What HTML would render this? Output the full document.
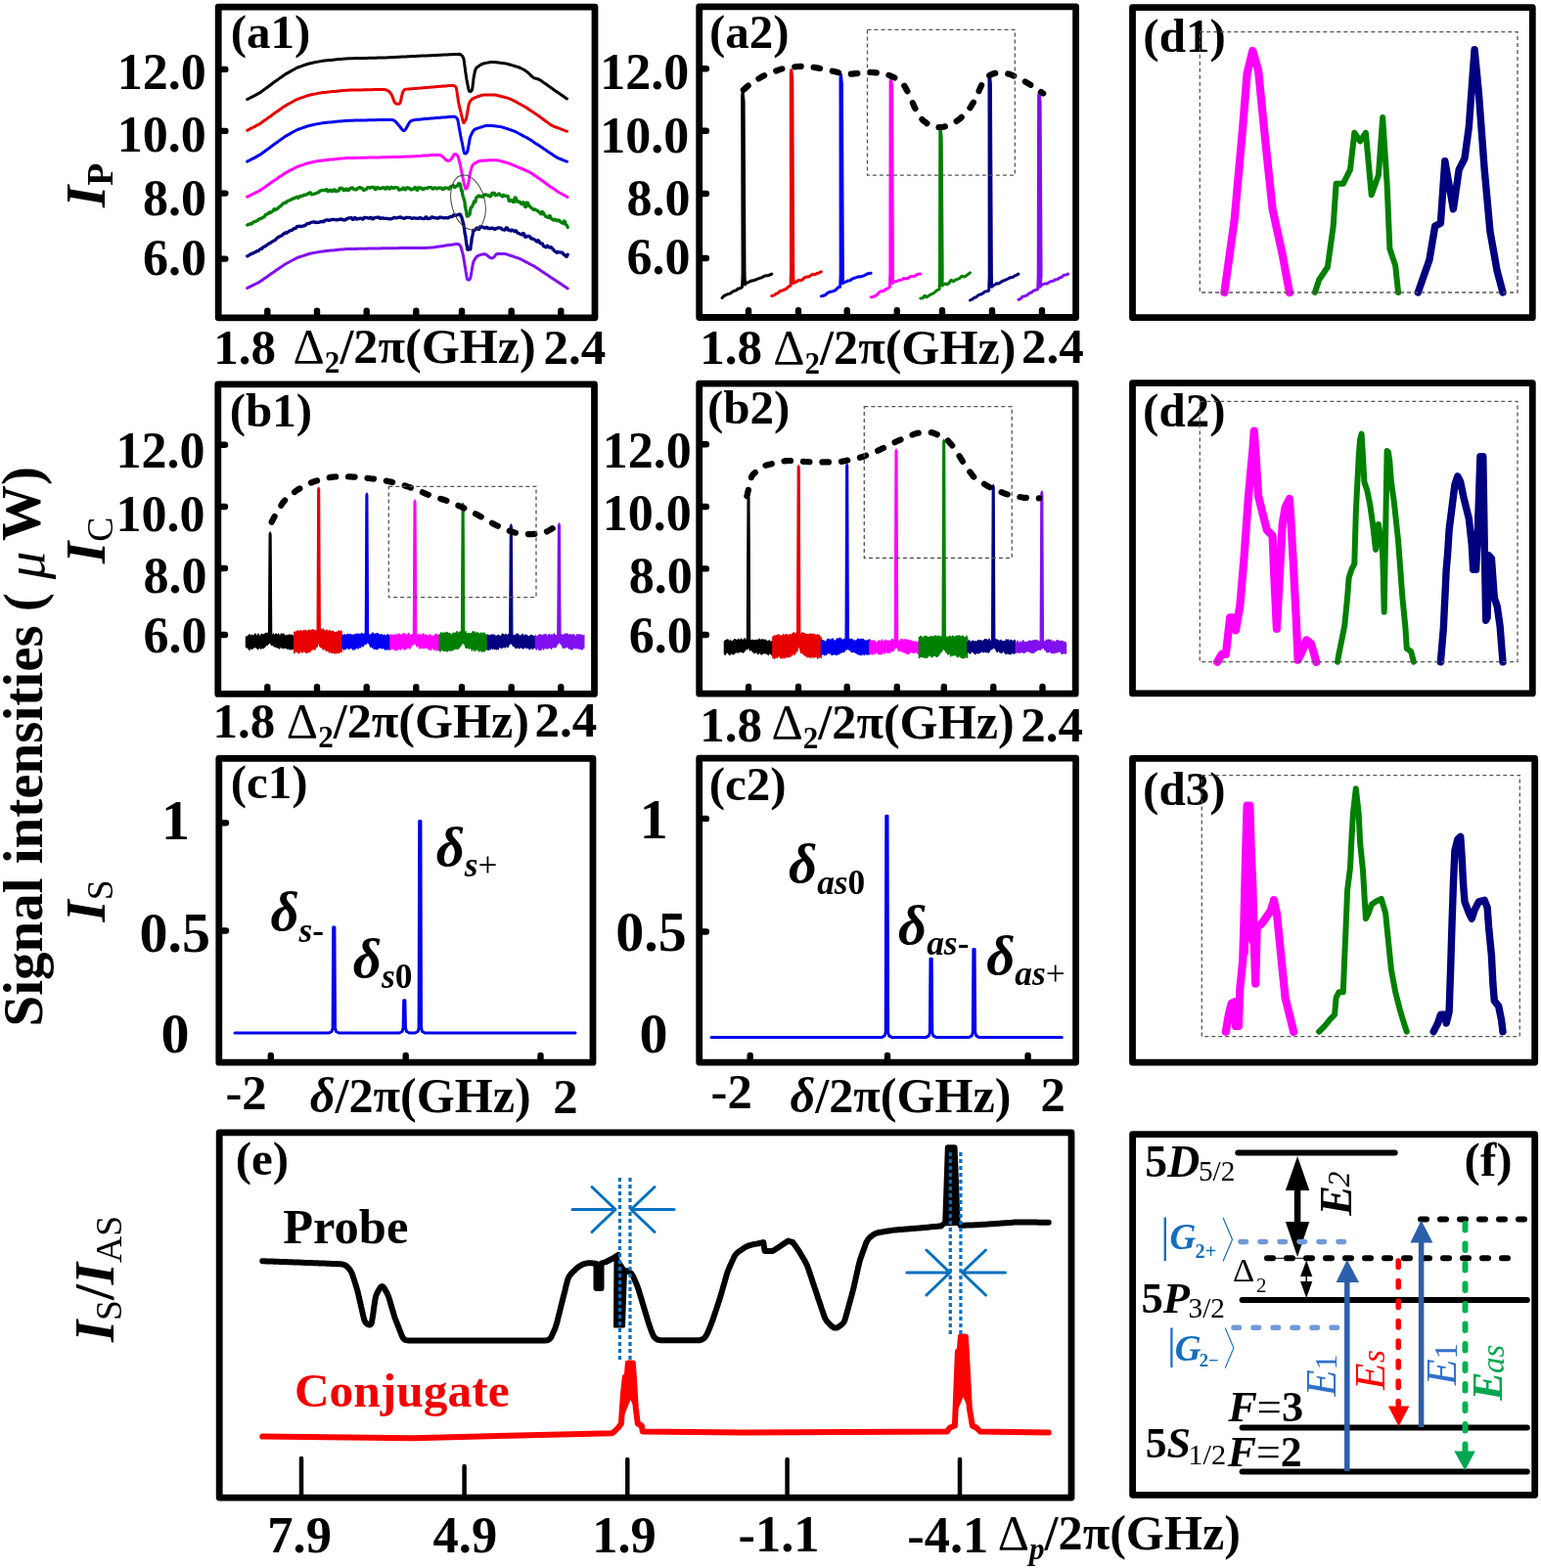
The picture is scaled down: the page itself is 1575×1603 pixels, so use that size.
<!DOCTYPE html>
<html><head><meta charset="utf-8"><style>
html,body{margin:0;padding:0;background:#fff;overflow:hidden;}
svg{display:block;}
text{font-family:"Liberation Serif", "DejaVu Serif", serif;}
</style></head><body>
<svg width="1575" height="1603" viewBox="0 0 1575 1603">
<rect width="1575" height="1603" fill="#fff"/>
<line x1="225.6" y1="70.9" x2="230.4" y2="70.9" stroke="#000" stroke-width="6.4" stroke-linecap="round"/>
<line x1="225.6" y1="133.9" x2="230.4" y2="133.9" stroke="#000" stroke-width="6.4" stroke-linecap="round"/>
<line x1="225.6" y1="197.6" x2="230.4" y2="197.6" stroke="#000" stroke-width="6.4" stroke-linecap="round"/>
<line x1="225.6" y1="264.6" x2="230.4" y2="264.6" stroke="#000" stroke-width="6.4" stroke-linecap="round"/>
<line x1="273.3" y1="322.4" x2="273.3" y2="317.6" stroke="#000" stroke-width="6.4" stroke-linecap="round"/>
<line x1="324.0" y1="322.4" x2="324.0" y2="317.6" stroke="#000" stroke-width="6.4" stroke-linecap="round"/>
<line x1="374.7" y1="322.4" x2="374.7" y2="317.6" stroke="#000" stroke-width="6.4" stroke-linecap="round"/>
<line x1="425.3" y1="322.4" x2="425.3" y2="317.6" stroke="#000" stroke-width="6.4" stroke-linecap="round"/>
<line x1="472.0" y1="322.4" x2="472.0" y2="317.6" stroke="#000" stroke-width="6.4" stroke-linecap="round"/>
<line x1="522.7" y1="322.4" x2="522.7" y2="317.6" stroke="#000" stroke-width="6.4" stroke-linecap="round"/>
<line x1="573.3" y1="322.4" x2="573.3" y2="317.6" stroke="#000" stroke-width="6.4" stroke-linecap="round"/>
<line x1="717.1" y1="70.3" x2="721.9" y2="70.3" stroke="#000" stroke-width="6.4" stroke-linecap="round"/>
<line x1="717.1" y1="133.7" x2="721.9" y2="133.7" stroke="#000" stroke-width="6.4" stroke-linecap="round"/>
<line x1="717.1" y1="198.0" x2="721.9" y2="198.0" stroke="#000" stroke-width="6.4" stroke-linecap="round"/>
<line x1="717.1" y1="264.0" x2="721.9" y2="264.0" stroke="#000" stroke-width="6.4" stroke-linecap="round"/>
<line x1="765.0" y1="322.1" x2="765.0" y2="317.3" stroke="#000" stroke-width="6.4" stroke-linecap="round"/>
<line x1="816.0" y1="322.1" x2="816.0" y2="317.3" stroke="#000" stroke-width="6.4" stroke-linecap="round"/>
<line x1="865.7" y1="322.1" x2="865.7" y2="317.3" stroke="#000" stroke-width="6.4" stroke-linecap="round"/>
<line x1="916.8" y1="322.1" x2="916.8" y2="317.3" stroke="#000" stroke-width="6.4" stroke-linecap="round"/>
<line x1="963.0" y1="322.1" x2="963.0" y2="317.3" stroke="#000" stroke-width="6.4" stroke-linecap="round"/>
<line x1="1014.0" y1="322.1" x2="1014.0" y2="317.3" stroke="#000" stroke-width="6.4" stroke-linecap="round"/>
<line x1="1065.0" y1="322.1" x2="1065.0" y2="317.3" stroke="#000" stroke-width="6.4" stroke-linecap="round"/>
<line x1="225.2" y1="454.7" x2="230.0" y2="454.7" stroke="#000" stroke-width="6.4" stroke-linecap="round"/>
<line x1="225.2" y1="518.0" x2="230.0" y2="518.0" stroke="#000" stroke-width="6.4" stroke-linecap="round"/>
<line x1="225.2" y1="581.0" x2="230.0" y2="581.0" stroke="#000" stroke-width="6.4" stroke-linecap="round"/>
<line x1="225.2" y1="649.0" x2="230.0" y2="649.0" stroke="#000" stroke-width="6.4" stroke-linecap="round"/>
<line x1="273.3" y1="707.0" x2="273.3" y2="702.2" stroke="#000" stroke-width="6.4" stroke-linecap="round"/>
<line x1="324.0" y1="707.0" x2="324.0" y2="702.2" stroke="#000" stroke-width="6.4" stroke-linecap="round"/>
<line x1="374.7" y1="707.0" x2="374.7" y2="702.2" stroke="#000" stroke-width="6.4" stroke-linecap="round"/>
<line x1="425.3" y1="707.0" x2="425.3" y2="702.2" stroke="#000" stroke-width="6.4" stroke-linecap="round"/>
<line x1="472.0" y1="707.0" x2="472.0" y2="702.2" stroke="#000" stroke-width="6.4" stroke-linecap="round"/>
<line x1="522.7" y1="707.0" x2="522.7" y2="702.2" stroke="#000" stroke-width="6.4" stroke-linecap="round"/>
<line x1="573.3" y1="707.0" x2="573.3" y2="702.2" stroke="#000" stroke-width="6.4" stroke-linecap="round"/>
<line x1="717.1" y1="454.3" x2="721.9" y2="454.3" stroke="#000" stroke-width="6.4" stroke-linecap="round"/>
<line x1="717.1" y1="518.0" x2="721.9" y2="518.0" stroke="#000" stroke-width="6.4" stroke-linecap="round"/>
<line x1="717.1" y1="581.4" x2="721.9" y2="581.4" stroke="#000" stroke-width="6.4" stroke-linecap="round"/>
<line x1="717.1" y1="649.0" x2="721.9" y2="649.0" stroke="#000" stroke-width="6.4" stroke-linecap="round"/>
<line x1="765.0" y1="706.8" x2="765.0" y2="702.0" stroke="#000" stroke-width="6.4" stroke-linecap="round"/>
<line x1="816.0" y1="706.8" x2="816.0" y2="702.0" stroke="#000" stroke-width="6.4" stroke-linecap="round"/>
<line x1="865.7" y1="706.8" x2="865.7" y2="702.0" stroke="#000" stroke-width="6.4" stroke-linecap="round"/>
<line x1="916.8" y1="706.8" x2="916.8" y2="702.0" stroke="#000" stroke-width="6.4" stroke-linecap="round"/>
<line x1="964.8" y1="706.8" x2="964.8" y2="702.0" stroke="#000" stroke-width="6.4" stroke-linecap="round"/>
<line x1="1015.3" y1="706.8" x2="1015.3" y2="702.0" stroke="#000" stroke-width="6.4" stroke-linecap="round"/>
<line x1="1065.5" y1="706.8" x2="1065.5" y2="702.0" stroke="#000" stroke-width="6.4" stroke-linecap="round"/>
<line x1="226.2" y1="841.3" x2="231.0" y2="841.3" stroke="#000" stroke-width="6.4" stroke-linecap="round"/>
<line x1="226.2" y1="951.5" x2="231.0" y2="951.5" stroke="#000" stroke-width="6.4" stroke-linecap="round"/>
<line x1="276.8" y1="1083.8" x2="276.8" y2="1079.0" stroke="#000" stroke-width="6.4" stroke-linecap="round"/>
<line x1="414.7" y1="1083.8" x2="414.7" y2="1079.0" stroke="#000" stroke-width="6.4" stroke-linecap="round"/>
<line x1="552.5" y1="1083.8" x2="552.5" y2="1079.0" stroke="#000" stroke-width="6.4" stroke-linecap="round"/>
<line x1="717.1" y1="836.9" x2="721.9" y2="836.9" stroke="#000" stroke-width="6.4" stroke-linecap="round"/>
<line x1="717.1" y1="952.5" x2="721.9" y2="952.5" stroke="#000" stroke-width="6.4" stroke-linecap="round"/>
<line x1="766.7" y1="1083.7" x2="766.7" y2="1078.9" stroke="#000" stroke-width="6.4" stroke-linecap="round"/>
<line x1="907.0" y1="1083.7" x2="907.0" y2="1078.9" stroke="#000" stroke-width="6.4" stroke-linecap="round"/>
<line x1="1050.6" y1="1083.7" x2="1050.6" y2="1078.9" stroke="#000" stroke-width="6.4" stroke-linecap="round"/>
<line x1="308" y1="1529.5" x2="308" y2="1491" stroke="#000" stroke-width="4.5" stroke-linecap="round"/>
<line x1="474.6" y1="1529.5" x2="474.6" y2="1499" stroke="#000" stroke-width="4.5" stroke-linecap="round"/>
<line x1="641.3" y1="1529.5" x2="641.3" y2="1492" stroke="#000" stroke-width="4.5" stroke-linecap="round"/>
<line x1="804.6" y1="1529.5" x2="804.6" y2="1492" stroke="#000" stroke-width="4.5" stroke-linecap="round"/>
<line x1="981" y1="1529.5" x2="981" y2="1492" stroke="#000" stroke-width="4.5" stroke-linecap="round"/>
<text x="119.65" y="90.84" font-size="52.00" font-weight="bold" text-anchor="start" >12.0</text>
<text x="119.65" y="155.49" font-size="52.00" font-weight="bold" text-anchor="start" >10.0</text>
<text x="145.90" y="219.60" font-size="52.00" font-weight="bold" text-anchor="start" >8.0</text>
<text x="145.90" y="280.80" font-size="52.00" font-weight="bold" text-anchor="start" >6.0</text>
<text x="613.30" y="90.90" font-size="52.00" font-weight="bold" text-anchor="start" >12.0</text>
<text x="613.30" y="155.69" font-size="52.00" font-weight="bold" text-anchor="start" >10.0</text>
<text x="640.50" y="219.78" font-size="52.00" font-weight="bold" text-anchor="start" >8.0</text>
<text x="640.50" y="280.14" font-size="52.00" font-weight="bold" text-anchor="start" >6.0</text>
<text x="118.55" y="477.78" font-size="52.00" font-weight="bold" text-anchor="start" >12.0</text>
<text x="118.55" y="542.58" font-size="52.00" font-weight="bold" text-anchor="start" >10.0</text>
<text x="146.50" y="606.42" font-size="52.00" font-weight="bold" text-anchor="start" >8.0</text>
<text x="146.50" y="666.62" font-size="52.00" font-weight="bold" text-anchor="start" >6.0</text>
<text x="615.65" y="477.78" font-size="52.00" font-weight="bold" text-anchor="start" >12.0</text>
<text x="615.65" y="542.34" font-size="52.00" font-weight="bold" text-anchor="start" >10.0</text>
<text x="642.85" y="606.13" font-size="52.00" font-weight="bold" text-anchor="start" >8.0</text>
<text x="642.85" y="666.62" font-size="52.00" font-weight="bold" text-anchor="start" >6.0</text>
<text x="164.95" y="857.92" font-size="58.00" font-weight="bold" text-anchor="start" >1</text>
<text x="142.40" y="972.68" font-size="58.00" font-weight="bold" text-anchor="start" >0.5</text>
<text x="164.40" y="1076.08" font-size="58.00" font-weight="bold" text-anchor="start" >0</text>
<text x="653.85" y="857.48" font-size="58.00" font-weight="bold" text-anchor="start" >1</text>
<text x="629.25" y="972.08" font-size="58.00" font-weight="bold" text-anchor="start" >0.5</text>
<text x="653.45" y="1076.08" font-size="58.00" font-weight="bold" text-anchor="start" >0</text>
<text x="218.15" y="372.31" font-size="51.00" font-weight="bold" text-anchor="start" >1.8</text>
<text x="299.55" y="371.41" font-size="50.20" font-weight="bold"><tspan font-weight="normal">Δ</tspan><tspan font-size="31.12" dy="10.04">2</tspan><tspan dy="-10.04">/2π(GHz)</tspan></text>
<text x="555.50" y="371.75" font-size="51.00" font-weight="bold" text-anchor="start" >2.4</text>
<text x="715.25" y="372.12" font-size="51.00" font-weight="bold" text-anchor="start" >1.8</text>
<text x="790.25" y="372.39" font-size="50.20" font-weight="bold"><tspan font-weight="normal">Δ</tspan><tspan font-size="31.12" dy="10.04">2</tspan><tspan dy="-10.04">/2π(GHz)</tspan></text>
<text x="1043.90" y="371.38" font-size="51.00" font-weight="bold" text-anchor="start" >2.4</text>
<text x="217.60" y="754.02" font-size="51.00" font-weight="bold" text-anchor="start" >1.8</text>
<text x="292.85" y="754.24" font-size="50.20" font-weight="bold"><tspan font-weight="normal">Δ</tspan><tspan font-size="31.12" dy="10.04">2</tspan><tspan dy="-10.04">/2π(GHz)</tspan></text>
<text x="546.50" y="753.22" font-size="51.00" font-weight="bold" text-anchor="start" >2.4</text>
<text x="715.25" y="758.22" font-size="51.00" font-weight="bold" text-anchor="start" >1.8</text>
<text x="788.50" y="755.10" font-size="50.20" font-weight="bold"><tspan font-weight="normal">Δ</tspan><tspan font-size="31.12" dy="10.04">2</tspan><tspan dy="-10.04">/2π(GHz)</tspan></text>
<text x="1043.35" y="758.22" font-size="51.00" font-weight="bold" text-anchor="start" >2.4</text>
<text x="230.40" y="1134.11" font-size="50.70" font-weight="bold" text-anchor="start" >-2</text>
<text x="316.80" y="1137.29" font-size="50.20" font-weight="bold"><tspan font-style="italic">δ</tspan>/2π(GHz)</text>
<text x="565.30" y="1138.15" font-size="50.70" font-weight="bold" text-anchor="start" >2</text>
<text x="726.60" y="1133.38" font-size="50.70" font-weight="bold" text-anchor="start" >-2</text>
<text x="807.55" y="1137.29" font-size="50.20" font-weight="bold"><tspan font-style="italic">δ</tspan>/2π(GHz)</text>
<text x="1063.50" y="1136.31" font-size="50.70" font-weight="bold" text-anchor="start" >2</text>
<text x="273.35" y="1586.65" font-size="52.50" font-weight="bold" text-anchor="start" >7.9</text>
<text x="442.55" y="1586.65" font-size="52.50" font-weight="bold" text-anchor="start" >4.9</text>
<text x="605.20" y="1586.65" font-size="52.50" font-weight="bold" text-anchor="start" >1.9</text>
<text x="754.50" y="1586.42" font-size="52.50" font-weight="bold" text-anchor="start" >-1.1</text>
<text x="927.25" y="1587.28" font-size="52.50" font-weight="bold" text-anchor="start" >-4.1</text>
<text x="1019.75" y="1583.97" font-size="50.20" font-weight="bold"><tspan font-weight="normal">Δ</tspan><tspan font-size="31.12" dy="10.04" font-style="italic">p</tspan><tspan dy="-10.04">/2π(GHz)</tspan></text>
<text x="235.80" y="49.41" font-size="49.00" font-weight="bold" text-anchor="start" >(a1)</text>
<text x="725.05" y="49.06" font-size="49.00" font-weight="bold" text-anchor="start" >(a2)</text>
<text x="1168.35" y="53.29" font-size="49.00" font-weight="bold" text-anchor="start" >(d1)</text>
<text x="234.65" y="435.64" font-size="49.00" font-weight="bold" text-anchor="start" >(b1)</text>
<text x="723.05" y="432.87" font-size="49.00" font-weight="bold" text-anchor="start" >(b2)</text>
<text x="1168.10" y="435.64" font-size="49.00" font-weight="bold" text-anchor="start" >(d2)</text>
<text x="235.70" y="815.57" font-size="49.00" font-weight="bold" text-anchor="start" >(c1)</text>
<text x="724.65" y="818.19" font-size="49.00" font-weight="bold" text-anchor="start" >(c2)</text>
<text x="1168.10" y="823.09" font-size="49.00" font-weight="bold" text-anchor="start" >(d3)</text>
<text x="240.80" y="1200.88" font-size="49.00" font-weight="bold" text-anchor="start" >(e)</text>
<text x="1496.60" y="1202.40" font-size="49.00" font-weight="bold" text-anchor="start" >(f)</text>
<text x="289.30" y="1271.36" font-size="50.46" font-weight="bold" text-anchor="start" >Probe</text>
<text x="300.90" y="1437.60" font-size="49.44" font-weight="bold" text-anchor="start" fill="#f20000">Conjugate</text>
<text transform="translate(42.73,1049.55) rotate(-90)" font-size="57.00" font-weight="bold">Signal intensities (</text>
<text transform="translate(44.77,592.35) rotate(-90)" font-size="57.00" font-weight="bold"><tspan font-style="italic" font-weight="normal">μ</tspan></text>
<text transform="translate(41.31,553.05) rotate(-90)" font-size="57.00" font-weight="bold">W)</text>
<text transform="translate(106.86,212.00) rotate(-90)" font-size="57.00" font-weight="bold"><tspan font-style="italic">I</tspan><tspan font-size="37.62" dy="7.98" font-weight="bold">P</tspan></text>
<text transform="translate(107.44,576.00) rotate(-90)" font-size="57.00" font-weight="bold"><tspan font-style="italic">I</tspan><tspan font-size="37.62" dy="7.98" font-weight="normal">C</tspan></text>
<text transform="translate(106.75,942.55) rotate(-90)" font-size="57.00" font-weight="bold"><tspan font-style="italic">I</tspan><tspan font-size="37.62" dy="7.98" font-weight="normal">S</tspan></text>
<text transform="translate(116.41,1372.10) rotate(-90)" font-size="57.00" font-weight="bold"><tspan font-style="italic">I</tspan><tspan font-size="37.62" dy="7.98" font-weight="normal">S</tspan><tspan dy="-7.98">/</tspan><tspan font-style="italic">I</tspan><tspan font-size="37.62" dy="7.98" font-weight="normal">AS</tspan></text>
<text x="276.40" y="951.36" font-size="57.00" font-weight="bold" font-style="italic">δ<tspan font-size="35.34" dy="11.40">s</tspan><tspan font-size="35.34" font-style="normal">-</tspan></text>
<text x="360.75" y="999.00" font-size="57.00" font-weight="bold" font-style="italic">δ<tspan font-size="35.34" dy="11.40">s</tspan><tspan font-size="35.34" font-style="normal">0</tspan></text>
<text x="445.65" y="884.80" font-size="57.00" font-weight="bold" font-style="italic">δ<tspan font-size="35.34" dy="11.40">s</tspan><tspan font-size="35.34" font-style="normal" font-weight="normal">+</tspan></text>
<text x="805.95" y="902.37" font-size="57.00" font-weight="bold" font-style="italic">δ<tspan font-size="35.34" dy="11.40">as</tspan><tspan font-size="35.34" font-style="normal">0</tspan></text>
<text x="918.00" y="964.92" font-size="57.00" font-weight="bold" font-style="italic">δ<tspan font-size="35.34" dy="11.40">as</tspan><tspan font-size="35.34" font-style="normal">-</tspan></text>
<text x="1008.15" y="996.02" font-size="57.00" font-weight="bold" font-style="italic">δ<tspan font-size="35.34" dy="11.40">as</tspan><tspan font-size="35.34" font-style="normal" font-weight="normal">+</tspan></text>
<text x="1170.35" y="1202.97" font-size="45.67" font-weight="bold" font-style="normal" fill="#000">5<tspan font-style="italic">D</tspan></text>
<text x="1224.90" y="1207.30" font-size="29.27" font-weight="normal" font-style="normal" fill="#000">5/2</text>
<text x="1166.40" y="1341.51" font-size="44.48" font-weight="bold" font-style="normal" fill="#000">5<tspan font-style="italic">P</tspan></text>
<text x="1214.50" y="1347.30" font-size="29.25" font-weight="normal" font-style="normal" fill="#000">3/2</text>
<text x="1170.65" y="1490.47" font-size="43.89" font-weight="bold" font-style="normal" fill="#000">5<tspan font-style="italic">S</tspan></text>
<text x="1214.35" y="1496.70" font-size="30.40" font-weight="normal" font-style="normal" fill="#000">1/2</text>
<text x="1255.15" y="1452.74" font-size="44.48" font-weight="bold" font-style="normal" fill="#000"><tspan font-style="italic">F</tspan><tspan font-weight="normal">=</tspan>3</text>
<text x="1254.65" y="1498.87" font-size="43.89" font-weight="bold" font-style="normal" fill="#000"><tspan font-style="italic">F</tspan><tspan font-weight="normal">=</tspan>2</text>
<text x="1260.10" y="1310.32" font-size="34.56" font-weight="normal" font-style="normal" fill="#000">Δ</text>
<text x="1283.95" y="1321.31" font-size="20.93" font-weight="normal" font-style="normal" fill="#000">2</text>
<text x="1195.50" y="1277.06" font-size="37.09" font-weight="bold" font-style="italic" fill="#146ebe">G</text>
<text x="1221.55" y="1286.06" font-size="20.33" font-weight="bold" font-style="normal" fill="#146ebe">2+</text>
<text x="1200.75" y="1391.04" font-size="37.09" font-weight="bold" font-style="italic" fill="#146ebe">G</text>
<text x="1225.65" y="1396.88" font-size="18.70" font-weight="bold" font-style="normal" fill="#146ebe">2−</text>
<text x="1185.95" y="1279.04" font-size="47.88" font-weight="normal" font-style="normal" fill="#146ebe" style="font-family:'Liberation Serif'">|</text>
<text transform="translate(1248.65,1286.04) scale(0.5,1)" font-size="48.70" font-weight="normal" fill="#146ebe" style="font-family:'Noto Serif CJK SC', 'Noto Sans CJK SC', serif">〉</text>
<text x="1193.00" y="1389.22" font-size="44.06" font-weight="normal" font-style="normal" fill="#146ebe" style="font-family:'Liberation Serif'">|</text>
<text transform="translate(1250.90,1395.43) scale(0.5,1)" font-size="44.89" font-weight="normal" fill="#146ebe" style="font-family:'Noto Serif CJK SC', 'Noto Sans CJK SC', serif">〉</text>
<text transform="translate(1380.81,1242.85) rotate(-90)" font-size="46.26" font-weight="bold" font-style="italic" fill="#000">E</text>
<text transform="translate(1379.22,1213.60) rotate(-90)" font-size="32.04" font-weight="normal" font-style="italic" fill="#000">2</text>
<text transform="translate(1365.34,1427.40) rotate(-90)" font-size="44.62" font-weight="normal" font-style="italic" fill="#3170c8">E</text>
<text transform="translate(1366.28,1400.40) rotate(-90)" font-size="31.86" font-weight="normal" font-style="normal" fill="#3170c8">1</text>
<text transform="translate(1414.75,1421.10) rotate(-90)" font-size="45.03" font-weight="normal" font-style="italic" fill="#ff0000">E</text>
<text transform="translate(1415.42,1393.05) rotate(-90)" font-size="33.33" font-weight="normal" font-style="italic" fill="#ff0000">s</text>
<text transform="translate(1487.51,1416.30) rotate(-90)" font-size="44.00" font-weight="normal" font-style="italic" fill="#3170c8">E</text>
<text transform="translate(1488.64,1389.40) rotate(-90)" font-size="33.11" font-weight="normal" font-style="normal" fill="#3170c8">1</text>
<text transform="translate(1535.27,1431.75) rotate(-90)" font-size="43.84" font-weight="bold" font-style="italic" fill="#00a650">E</text>
<text transform="translate(1537.18,1404.05) rotate(-90)" font-size="32.90" font-weight="normal" font-style="italic" fill="#00a650">as</text>
<path d="M252.7,101.6 L254.5,100.7 L256.3,99.7 L258.1,98.8 L260.0,97.8 L261.8,96.9 L263.6,95.9 L265.4,94.9 L267.1,93.7 L268.8,92.5 L270.5,91.2 L272.2,90.0 L273.9,88.7 L275.6,87.5 L277.3,86.2 L278.9,85.0 L280.6,83.8 L282.3,82.6 L284.0,81.4 L285.7,80.1 L287.4,78.9 L289.1,77.7 L290.8,76.5 L292.6,75.4 L294.4,74.4 L296.2,73.4 L298.1,72.3 L299.9,71.3 L301.7,70.3 L303.5,69.3 L305.5,68.5 L307.4,67.9 L309.4,67.2 L311.3,66.5 L313.3,65.8 L315.2,65.2 L317.3,64.7 L319.4,64.2 L321.5,63.8 L323.6,63.4 L325.7,63.0 L327.8,62.6 L329.9,62.2 L331.9,62.0 L334.0,61.8 L336.0,61.6 L338.0,61.4 L340.1,61.2 L342.1,61.0 L344.1,60.8 L346.2,60.6 L348.2,60.4 L350.2,60.2 L352.3,60.0 L354.3,59.9 L356.3,59.8 L358.3,59.7 L360.3,59.7 L362.3,59.6 L364.3,59.6 L366.3,59.6 L368.3,59.5 L370.3,59.5 L372.3,59.4 L374.4,59.4 L376.4,59.3 L378.4,59.3 L380.4,59.3 L382.4,59.2 L384.4,59.2 L386.4,59.1 L388.4,59.1 L390.4,59.0 L392.4,59.0 L394.4,58.9 L396.4,58.8 L398.4,58.7 L400.5,58.6 L402.5,58.5 L404.5,58.4 L406.5,58.3 L408.5,58.2 L410.5,58.1 L412.6,58.0 L414.6,57.9 L416.6,57.8 L418.6,57.7 L420.6,57.6 L422.6,57.5 L424.6,57.4 L426.7,57.3 L428.7,57.2 L430.7,57.1 L432.7,57.1 L434.7,57.0 L436.7,56.9 L438.8,56.8 L440.8,56.7 L442.8,56.6 L444.8,56.5 L446.8,56.4 L448.8,56.3 L450.8,56.2 L452.9,56.1 L454.9,56.0 L456.9,55.9 L458.9,55.8 L460.9,55.7 L462.9,55.6 L465.0,55.5 L467.0,55.4 L469.0,55.3 L470.8,55.8 L472.4,57.1 L473.5,59.0 L474.1,61.0 L474.4,63.0 L474.6,65.0 L474.9,67.0 L475.2,69.0 L475.5,71.0 L475.7,73.0 L476.0,75.0 L476.3,77.0 L476.6,79.0 L476.9,81.0 L477.3,83.1 L477.7,85.1 L478.1,87.2 L478.5,89.2 L478.9,91.2 L479.5,93.0 L480.6,93.7 L481.9,92.9 L482.7,91.3 L482.9,89.2 L483.2,87.2 L483.4,85.2 L483.7,83.2 L483.9,81.1 L484.2,79.1 L484.6,77.0 L485.0,74.9 L485.5,72.7 L486.1,70.7 L487.3,69.0 L489.1,67.7 L491.0,66.4 L493.0,65.4 L495.0,64.8 L497.1,64.4 L499.2,63.9 L501.3,63.6 L503.4,63.5 L505.5,63.6 L507.5,63.8 L509.6,64.0 L511.6,64.3 L513.6,64.5 L515.7,64.7 L517.7,65.1 L519.8,65.7 L521.8,66.3 L523.9,66.9 L525.9,67.5 L527.9,68.1 L530.0,68.7 L531.9,69.5 L533.8,70.5 L535.7,71.4 L537.5,72.6 L539.2,73.9 L540.9,75.4 L542.4,76.9 L543.9,78.4 L545.5,79.6 L547.6,80.2 L549.9,80.8 L551.9,81.8 L553.8,83.1 L555.6,84.4 L557.4,85.6 L559.1,86.8 L560.8,88.1 L562.6,89.3 L564.3,90.5 L566.0,91.7 L567.8,92.9 L569.5,94.1 L571.2,95.3 L573.0,96.5 L574.8,97.8 L576.6,99.0 L578.6,100.4 L579.5,101.0" fill="none" stroke="#000000" stroke-width="3.0" stroke-linejoin="round" stroke-linecap="round" />
<path d="M252.7,133.3 L254.5,132.4 L256.3,131.4 L258.1,130.5 L260.0,129.6 L261.8,128.6 L263.6,127.7 L265.4,126.7 L267.1,125.5 L268.8,124.3 L270.5,123.1 L272.2,121.9 L273.9,120.6 L275.6,119.4 L277.3,118.2 L278.9,117.0 L280.6,115.8 L282.3,114.6 L284.0,113.4 L285.7,112.2 L287.4,111.0 L289.1,109.8 L290.8,108.6 L292.6,107.6 L294.4,106.5 L296.2,105.5 L298.1,104.5 L299.9,103.5 L301.7,102.5 L303.5,101.6 L305.5,100.8 L307.4,100.1 L309.4,99.5 L311.3,98.8 L313.3,98.1 L315.2,97.5 L317.3,97.0 L319.4,96.5 L321.5,96.1 L323.6,95.7 L325.7,95.3 L327.8,94.9 L329.9,94.6 L331.9,94.4 L334.0,94.2 L336.0,94.0 L338.0,93.8 L340.1,93.6 L342.1,93.4 L344.1,93.2 L346.2,93.0 L348.2,92.8 L350.2,92.6 L352.3,92.4 L354.3,92.2 L356.3,92.2 L358.3,92.1 L360.3,92.1 L362.3,92.0 L364.3,92.0 L366.3,91.9 L368.3,91.9 L370.3,91.9 L372.3,91.8 L374.4,91.8 L376.4,91.7 L378.4,91.7 L380.4,91.7 L382.4,91.6 L384.4,91.6 L386.4,91.5 L388.4,91.5 L390.4,91.4 L392.6,91.6 L394.8,92.0 L396.9,93.0 L398.5,94.4 L399.8,96.0 L400.8,97.9 L401.5,99.9 L402.3,102.0 L403.0,104.0 L404.2,105.5 L405.8,106.3 L407.7,106.3 L408.9,105.4 L409.5,103.5 L410.0,101.4 L410.4,99.2 L410.9,97.2 L411.4,95.2 L412.1,93.3 L413.1,91.9 L414.7,91.2 L416.7,91.1 L418.8,90.9 L420.8,90.7 L422.8,90.6 L424.8,90.4 L426.9,90.2 L428.9,90.1 L430.9,89.9 L432.9,89.7 L435.0,89.5 L437.0,89.4 L439.0,89.2 L441.0,89.0 L443.1,88.9 L445.1,88.7 L447.1,88.5 L449.1,88.4 L451.1,88.2 L453.2,88.0 L455.2,87.9 L457.2,87.7 L459.2,87.5 L461.3,87.4 L463.3,87.4 L465.1,88.1 L466.2,89.7 L466.7,91.6 L467.0,93.6 L467.3,95.6 L467.6,97.7 L467.9,99.7 L468.2,101.7 L468.5,103.7 L468.9,105.7 L469.3,107.7 L469.7,109.7 L470.2,111.7 L470.7,113.7 L471.2,115.7 L471.6,117.7 L472.1,119.7 L472.6,121.7 L473.1,123.7 L473.6,125.3 L474.3,125.4 L475.2,123.8 L476.2,121.9 L476.8,120.0 L477.2,118.0 L477.6,115.9 L477.9,113.9 L478.3,111.9 L478.6,109.9 L479.0,107.8 L479.4,105.8 L480.3,103.9 L481.7,102.1 L483.4,100.8 L485.3,99.9 L487.2,99.2 L489.1,98.5 L491.0,97.8 L492.9,97.3 L494.9,97.1 L497.0,97.1 L499.0,97.1 L501.0,97.1 L503.0,97.1 L505.1,97.1 L507.1,97.3 L509.1,97.7 L511.2,98.2 L513.2,98.8 L515.3,99.3 L517.3,99.9 L519.4,100.4 L521.3,101.1 L523.2,102.0 L525.0,102.9 L526.8,103.8 L528.5,104.8 L530.3,105.8 L532.1,106.7 L533.9,107.7 L535.7,108.7 L537.4,109.7 L539.1,110.8 L540.7,112.0 L542.4,113.1 L544.1,114.2 L545.8,115.3 L547.5,116.4 L549.2,117.6 L550.8,118.7 L552.5,120.0 L554.2,121.2 L555.9,122.4 L557.6,123.7 L559.3,124.9 L560.9,126.1 L562.6,127.4 L564.4,128.4 L566.2,129.3 L568.1,130.0 L570.0,130.7 L571.9,131.4 L573.8,132.2 L575.7,132.9 L577.6,133.6 L579.5,134.3 L579.5,134.3" fill="none" stroke="#e80000" stroke-width="3.0" stroke-linejoin="round" stroke-linecap="round" />
<path d="M252.7,165.1 L254.5,164.2 L256.3,163.2 L258.1,162.3 L260.0,161.3 L261.8,160.4 L263.6,159.4 L265.4,158.4 L267.1,157.2 L268.8,156.0 L270.5,154.7 L272.2,153.5 L273.9,152.2 L275.6,151.0 L277.3,149.7 L278.9,148.5 L280.6,147.3 L282.3,146.1 L284.0,144.9 L285.7,143.6 L287.4,142.4 L289.1,141.2 L290.8,140.0 L292.6,138.9 L294.4,137.9 L296.2,136.9 L298.1,135.8 L299.9,134.8 L301.7,133.8 L303.5,132.8 L305.5,132.0 L307.4,131.4 L309.4,130.7 L311.3,130.0 L313.3,129.3 L315.2,128.7 L317.3,128.2 L319.4,127.7 L321.5,127.3 L323.6,126.9 L325.7,126.5 L327.8,126.1 L329.9,125.7 L331.9,125.5 L334.0,125.3 L336.0,125.1 L338.0,124.9 L340.1,124.7 L342.1,124.5 L344.1,124.3 L346.2,124.1 L348.2,123.9 L350.2,123.7 L352.3,123.5 L354.3,123.4 L356.3,123.3 L358.3,123.2 L360.3,123.2 L362.3,123.1 L364.3,123.1 L366.3,123.1 L368.3,123.0 L370.3,123.0 L372.3,122.9 L374.4,122.9 L376.4,122.8 L378.4,122.8 L380.4,122.8 L382.4,122.7 L384.4,122.7 L386.4,122.6 L388.4,122.6 L390.4,122.5 L392.4,122.5 L394.4,122.5 L396.4,122.5 L398.5,122.5 L400.5,122.5 L402.4,123.0 L404.0,124.0 L405.5,125.6 L406.9,127.2 L408.2,128.8 L409.5,130.5 L410.8,132.2 L412.1,133.5 L413.3,133.5 L414.5,132.2 L415.6,130.4 L416.6,128.6 L417.6,126.7 L418.6,124.9 L420.1,123.7 L422.1,123.0 L424.1,122.6 L426.1,122.3 L428.1,122.2 L430.1,122.0 L432.1,121.8 L434.1,121.6 L436.1,121.5 L438.1,121.3 L440.1,121.1 L442.1,121.0 L444.1,120.8 L446.2,120.6 L448.2,120.5 L450.2,120.3 L452.2,120.1 L454.2,119.9 L456.2,119.8 L458.2,119.6 L460.2,119.4 L462.2,119.3 L464.2,119.2 L466.0,119.8 L467.2,121.2 L468.0,123.0 L468.3,125.0 L468.7,127.0 L469.0,129.0 L469.4,131.0 L469.7,133.0 L470.1,135.0 L470.5,137.0 L470.8,139.0 L471.2,141.0 L471.6,143.0 L472.1,145.0 L472.5,147.0 L472.9,149.1 L473.3,151.1 L473.7,153.1 L474.2,155.1 L474.7,156.8 L475.9,157.1 L477.1,156.0 L478.0,154.2 L478.3,152.2 L478.7,150.1 L479.1,148.1 L479.4,146.1 L479.8,144.1 L480.1,142.0 L480.7,140.0 L481.4,138.1 L482.4,136.2 L483.4,134.3 L484.6,132.8 L486.3,131.7 L488.4,131.1 L490.4,130.4 L492.5,129.8 L494.5,129.1 L496.6,128.5 L498.6,128.3 L500.7,128.4 L502.7,128.6 L504.8,128.8 L506.8,129.0 L508.8,129.2 L510.9,129.4 L512.8,129.9 L514.8,130.5 L516.7,131.1 L518.6,131.7 L520.5,132.4 L522.4,133.0 L524.3,133.7 L526.2,134.4 L528.0,135.2 L529.8,136.2 L531.6,137.2 L533.4,138.1 L535.1,139.1 L536.9,140.0 L538.7,140.9 L540.5,142.0 L542.2,143.0 L543.9,144.1 L545.5,145.3 L547.2,146.4 L548.9,147.5 L550.6,148.6 L552.3,149.7 L554.0,150.8 L555.6,152.0 L557.3,153.1 L559.0,154.2 L560.6,155.4 L562.3,156.5 L564.0,157.6 L565.7,158.7 L567.3,159.9 L569.1,160.9 L570.9,161.8 L572.8,162.5 L574.7,163.3 L576.6,164.1 L578.5,164.8 L579.5,165.2" fill="none" stroke="#0000f0" stroke-width="3.0" stroke-linejoin="round" stroke-linecap="round" />
<path d="M252.7,201.2 L254.5,200.3 L256.3,199.4 L258.1,198.5 L260.0,197.6 L261.8,196.7 L263.6,195.8 L265.4,194.8 L267.1,193.7 L268.8,192.5 L270.5,191.4 L272.2,190.2 L273.9,189.0 L275.6,187.8 L277.3,186.6 L278.9,185.5 L280.6,184.3 L282.3,183.2 L284.0,182.0 L285.7,180.8 L287.4,179.7 L289.1,178.5 L290.8,177.4 L292.6,176.4 L294.4,175.4 L296.2,174.4 L298.1,173.4 L299.9,172.5 L301.7,171.5 L303.5,170.6 L305.5,169.9 L307.4,169.2 L309.4,168.6 L311.3,167.9 L313.3,167.3 L315.2,166.7 L317.3,166.2 L319.4,165.7 L321.5,165.3 L323.6,164.9 L325.7,164.5 L327.8,164.2 L329.9,163.9 L331.9,163.7 L334.0,163.5 L336.0,163.3 L338.0,163.1 L340.1,162.9 L342.1,162.7 L344.1,162.5 L346.2,162.3 L348.2,162.1 L350.2,161.9 L352.3,161.8 L354.3,161.6 L356.3,161.5 L358.3,161.5 L360.3,161.4 L362.3,161.4 L364.3,161.4 L366.3,161.3 L368.3,161.3 L370.3,161.2 L372.3,161.2 L374.4,161.2 L376.4,161.1 L378.4,161.1 L380.4,161.0 L382.4,161.0 L384.4,161.0 L386.4,160.9 L388.4,160.9 L390.4,160.8 L392.4,160.8 L394.4,160.7 L396.5,160.7 L398.5,160.6 L400.6,160.6 L402.6,160.5 L404.7,160.4 L406.7,160.4 L408.8,160.3 L410.8,160.3 L412.8,160.2 L414.9,160.1 L416.9,160.1 L419.0,160.0 L421.0,159.9 L423.0,159.8 L425.0,159.7 L427.0,159.5 L429.1,159.4 L431.1,159.3 L433.1,159.1 L435.1,159.0 L437.1,158.9 L439.1,158.8 L441.1,158.6 L443.2,158.5 L445.2,158.4 L447.2,158.2 L449.2,158.5 L451.3,159.4 L453.1,160.7 L454.6,162.2 L456.0,163.6 L457.6,164.4 L459.4,164.2 L461.0,162.9 L462.2,161.4 L463.1,159.5 L464.1,158.0 L465.6,157.5 L467.1,158.5 L468.2,160.2 L468.8,162.3 L469.3,164.4 L469.9,166.5 L470.4,168.7 L470.8,170.8 L471.2,172.9 L471.7,175.0 L472.1,177.1 L472.5,179.2 L472.9,181.3 L473.4,183.3 L473.8,185.3 L474.3,187.3 L474.8,189.3 L475.2,191.3 L475.7,192.9 L476.5,193.0 L477.4,191.6 L478.2,189.7 L478.7,187.7 L479.0,185.6 L479.4,183.4 L479.7,181.3 L480.0,179.2 L480.4,177.1 L480.9,175.1 L481.5,173.2 L482.0,171.2 L482.8,169.4 L484.0,167.8 L485.9,166.6 L487.8,165.5 L489.9,164.7 L492.0,164.3 L494.1,164.2 L496.3,164.0 L498.4,163.9 L500.6,163.8 L502.7,163.8 L504.8,163.8 L506.8,163.8 L508.9,164.0 L510.9,164.4 L512.9,165.0 L515.0,165.5 L517.0,166.1 L519.0,166.7 L521.0,167.4 L523.0,168.2 L525.0,169.0 L527.0,169.9 L529.0,170.7 L531.0,171.5 L532.9,172.3 L534.9,173.2 L536.8,174.0 L538.7,174.8 L540.6,175.7 L542.4,176.7 L544.1,177.8 L545.8,179.0 L547.5,180.1 L549.2,181.3 L550.9,182.4 L552.6,183.6 L554.2,184.8 L556.0,186.0 L557.6,187.3 L559.4,188.5 L561.0,189.7 L562.7,190.9 L564.4,192.0 L566.0,193.1 L567.7,194.2 L569.3,195.4 L571.0,196.5 L572.8,197.5 L574.6,198.5 L576.4,199.5 L578.2,200.5 L580.0,201.5 L580.0,201.5" fill="none" stroke="#ff00ff" stroke-width="3.0" stroke-linejoin="round" stroke-linecap="round" />
<path d="M252.7,230.0 L253.7,229.6 L254.7,229.3 L255.6,228.8 L256.6,229.0 L257.6,228.5 L258.6,227.3 L259.5,226.9 L260.5,226.5 L261.5,226.1 L262.5,225.7 L263.4,225.3 L264.4,224.2 L265.4,223.7 L266.2,223.7 L267.1,223.2 L267.9,222.8 L268.8,222.2 L269.6,222.0 L270.5,221.4 L271.3,219.7 L272.2,219.2 L273.0,219.0 L273.9,218.4 L274.7,217.5 L275.6,217.0 L276.4,217.6 L277.3,217.0 L278.1,216.3 L278.9,215.8 L279.8,214.2 L280.6,213.7 L281.5,214.6 L282.3,214.1 L283.2,213.5 L284.0,213.0 L284.9,211.9 L285.7,211.4 L286.6,210.8 L287.4,210.3 L288.3,209.0 L289.1,208.4 L290.0,207.7 L290.8,207.1 L291.7,207.5 L292.6,207.0 L293.5,205.8 L294.4,205.4 L295.3,205.1 L296.2,204.7 L297.1,204.3 L298.1,203.9 L299.0,203.1 L299.9,202.6 L300.8,202.8 L301.7,202.3 L302.6,201.8 L303.5,201.3 L304.5,202.3 L305.5,202.0 L306.4,200.7 L307.4,200.4 L308.4,200.5 L309.4,200.2 L310.3,199.4 L311.3,199.1 L312.3,199.3 L313.3,199.0 L314.2,198.1 L315.2,197.8 L316.2,197.0 L317.3,196.8 L318.3,198.8 L319.4,198.6 L320.4,198.4 L321.5,198.2 L322.5,197.6 L323.6,197.4 L324.7,196.8 L325.7,196.6 L326.8,195.2 L327.8,195.1 L328.9,194.6 L329.9,194.5 L330.9,194.6 L331.9,194.5 L333.0,193.8 L334.0,193.7 L335.0,195.7 L336.0,195.6 L337.0,194.4 L338.0,194.3 L339.1,195.6 L340.1,195.5 L341.1,194.0 L342.1,193.9 L343.1,195.6 L344.1,195.5 L345.2,195.1 L346.2,195.0 L347.2,192.3 L348.2,192.2 L349.2,192.8 L350.2,192.7 L351.3,194.7 L352.3,194.6 L353.3,193.2 L354.3,193.1 L355.3,194.6 L356.3,194.6 L357.3,192.9 L358.3,192.8 L359.3,191.8 L360.3,191.8 L361.3,193.5 L362.3,193.5 L363.3,193.9 L364.3,193.9 L365.3,192.3 L366.3,192.3 L367.3,191.7 L368.3,191.7 L369.3,192.4 L370.3,192.4 L371.3,194.3 L372.3,194.3 L373.4,193.6 L374.4,193.6 L375.4,191.7 L376.4,191.7 L377.4,192.0 L378.4,192.0 L379.4,191.5 L380.4,191.5 L381.4,191.4 L382.4,191.4 L383.4,193.6 L384.4,193.5 L385.4,191.7 L386.4,191.6 L387.4,192.8 L388.4,192.8 L389.4,192.4 L390.4,192.4 L391.4,191.6 L392.4,191.6 L393.4,193.2 L394.4,193.2 L395.4,191.4 L396.5,191.4 L397.5,193.0 L398.5,193.0 L399.5,191.4 L400.5,191.4 L401.5,192.3 L402.5,192.3 L403.5,191.7 L404.6,191.7 L405.6,191.9 L406.6,191.9 L407.6,194.0 L408.6,194.0 L409.6,193.6 L410.6,193.6 L411.6,192.1 L412.7,192.1 L413.7,193.8 L414.7,193.8 L415.7,191.8 L416.7,191.8 L417.7,192.4 L418.7,192.4 L419.7,193.8 L420.8,193.8 L421.8,193.2 L422.8,193.2 L423.8,191.6 L424.8,191.6 L425.8,194.2 L426.8,194.3 L427.8,191.9 L428.9,191.9 L429.9,192.1 L430.9,192.1 L431.9,193.6 L432.9,193.7 L433.9,192.3 L434.9,192.3 L435.9,192.3 L437.0,192.3 L438.0,191.6 L439.0,191.6 L440.0,191.7 L441.0,191.6 L442.0,193.0 L443.0,193.0 L444.1,191.9 L445.1,191.9 L446.1,192.9 L447.1,192.8 L448.1,192.1 L449.1,192.0 L450.1,192.2 L451.2,192.2 L452.2,193.6 L453.2,193.6 L454.2,192.1 L455.2,192.0 L456.2,192.2 L457.3,192.2 L458.3,193.0 L459.3,193.0 L460.3,190.8 L461.3,190.5 L462.3,190.0 L463.4,189.6 L464.4,191.5 L465.4,191.1 L466.4,190.4 L467.5,190.0 L468.5,187.9 L469.5,187.5 L470.5,188.4 L470.8,189.4 L471.0,192.1 L471.3,193.1 L471.6,194.7 L471.9,195.7 L472.1,194.5 L472.4,195.5 L472.7,198.8 L473.0,199.8 L473.2,200.6 L473.5,201.6 L473.7,201.8 L473.9,202.8 L474.1,203.3 L474.3,204.3 L474.5,204.4 L474.7,205.4 L474.9,206.2 L475.1,207.2 L475.3,211.0 L475.5,212.0 L475.6,210.9 L475.8,211.9 L476.0,214.3 L476.2,215.3 L476.4,215.0 L476.6,216.0 L476.8,218.7 L477.0,219.7 L477.2,220.1 L477.4,221.1 L477.6,221.2 L478.6,220.7 L479.6,219.8 L479.8,218.8 L480.0,219.4 L480.3,218.4 L480.5,215.4 L480.7,214.4 L480.9,213.9 L481.2,212.8 L481.4,212.8 L481.6,211.8 L482.2,211.8 L482.7,210.9 L483.3,209.2 L483.9,208.3 L484.4,206.4 L485.0,205.5 L485.6,206.6 L486.1,205.7 L486.7,202.0 L487.7,201.6 L488.7,200.3 L489.8,200.0 L490.8,201.0 L491.8,200.6 L492.8,201.2 L493.8,201.1 L494.9,199.0 L495.9,198.8 L496.9,199.3 L497.9,199.2 L498.9,200.1 L500.0,199.9 L501.0,200.9 L501.9,200.4 L502.8,197.7 L503.7,197.2 L504.6,198.0 L505.5,197.5 L506.4,199.8 L507.3,199.3 L508.2,199.4 L509.1,198.9 L509.9,197.9 L510.7,198.6 L511.5,199.4 L512.3,200.1 L513.0,200.2 L513.8,200.9 L514.6,199.3 L515.4,200.0 L516.2,200.1 L517.2,200.3 L518.2,200.4 L519.2,200.6 L520.2,205.4 L521.2,205.6 L522.3,204.7 L523.3,204.9 L524.3,206.5 L525.3,206.7 L526.3,202.0 L527.3,202.4 L528.3,206.0 L529.4,206.4 L530.4,206.0 L531.4,206.5 L532.4,208.2 L533.4,208.6 L534.5,206.8 L535.5,207.2 L536.5,211.2 L537.5,211.6 L538.5,207.2 L539.6,207.6 L540.6,210.5 L541.6,210.9 L542.6,212.3 L543.6,212.7 L544.7,214.0 L545.7,214.4 L546.7,213.9 L547.6,214.5 L548.5,214.9 L549.5,215.4 L550.4,216.4 L551.3,217.0 L552.2,218.2 L553.1,218.7 L554.0,216.4 L555.0,216.9 L555.9,219.2 L556.8,219.8 L557.7,221.3 L558.7,221.8 L559.6,222.1 L560.5,222.5 L561.4,220.6 L562.4,221.1 L563.3,223.5 L564.2,223.9 L565.1,224.8 L566.1,225.2 L567.0,224.2 L567.9,224.6 L568.9,225.3 L569.8,225.8 L570.8,224.9 L571.7,225.4 L572.7,226.8 L573.6,227.3 L574.5,227.9 L575.5,228.3 L576.4,226.0 L577.4,226.4 L578.3,229.8 L579.3,230.2 L580.2,232.5" fill="none" stroke="#008000" stroke-width="3.3" stroke-linejoin="round" stroke-linecap="round" />
<path d="M252.7,261.9 L253.6,261.5 L254.5,260.9 L255.4,260.4 L256.3,259.7 L257.2,259.2 L258.1,259.2 L259.0,258.7 L260.0,258.1 L260.9,257.7 L261.8,257.2 L262.7,256.7 L263.6,256.7 L264.5,256.3 L265.4,255.1 L266.2,254.5 L267.1,254.6 L267.9,254.1 L268.8,252.8 L269.6,252.2 L270.5,252.2 L271.3,251.7 L272.2,251.0 L273.0,250.4 L273.9,249.6 L274.7,249.0 L275.6,248.9 L276.4,248.4 L277.3,247.6 L278.1,247.1 L278.9,246.6 L279.8,246.1 L280.6,245.8 L281.5,245.3 L282.3,244.1 L283.2,243.5 L284.0,242.7 L284.9,242.2 L285.7,241.9 L286.6,241.3 L287.4,241.2 L288.3,240.6 L289.1,239.6 L290.0,239.0 L290.8,238.5 L291.7,238.0 L292.6,238.3 L293.5,237.8 L294.4,237.1 L295.3,236.6 L296.2,235.9 L297.1,235.5 L298.1,235.4 L299.0,235.0 L299.9,233.9 L300.8,233.5 L301.7,233.5 L302.6,233.0 L303.5,231.6 L304.5,231.3 L305.5,231.5 L306.4,231.2 L307.4,231.6 L308.4,231.3 L309.4,231.2 L310.3,230.9 L311.3,230.6 L312.3,230.3 L313.3,229.0 L314.2,228.7 L315.2,228.7 L316.2,228.4 L317.3,227.7 L318.3,227.5 L319.4,227.0 L320.4,226.8 L321.5,227.3 L322.5,227.1 L323.6,227.6 L324.7,227.4 L325.7,227.3 L326.8,227.1 L327.8,226.6 L328.9,226.4 L329.9,226.8 L330.9,226.7 L331.9,225.3 L333.0,225.2 L334.0,224.9 L335.0,224.8 L336.0,225.3 L337.0,225.2 L338.0,224.7 L339.1,224.6 L340.1,224.4 L341.1,224.3 L342.1,224.6 L343.1,224.6 L344.1,224.9 L345.2,224.8 L346.2,224.4 L347.2,224.4 L348.2,223.9 L349.2,223.8 L350.2,224.8 L351.3,224.7 L352.3,224.9 L353.3,224.8 L354.3,223.6 L355.3,223.6 L356.3,222.8 L357.3,222.8 L358.3,222.7 L359.3,222.7 L360.3,224.4 L361.3,224.3 L362.3,222.7 L363.3,222.6 L364.3,224.0 L365.3,223.9 L366.3,223.6 L367.3,223.6 L368.3,223.1 L369.3,223.1 L370.3,224.0 L371.3,224.0 L372.3,222.4 L373.4,222.4 L374.4,222.6 L375.4,222.6 L376.4,223.2 L377.4,223.2 L378.4,222.3 L379.4,222.3 L380.4,223.9 L381.4,223.9 L382.4,222.7 L383.4,222.6 L384.4,222.4 L385.4,222.4 L386.4,222.2 L387.4,222.2 L388.4,223.3 L389.4,223.3 L390.4,222.9 L391.4,222.9 L392.4,223.3 L393.4,223.3 L394.4,223.3 L395.4,223.3 L396.5,223.6 L397.5,223.6 L398.5,223.9 L399.5,223.9 L400.5,223.3 L401.5,223.3 L402.5,222.4 L403.5,222.4 L404.6,222.9 L405.6,222.9 L406.6,222.3 L407.6,222.3 L408.6,222.0 L409.6,221.9 L410.6,222.9 L411.6,222.9 L412.7,223.3 L413.7,223.3 L414.7,222.3 L415.7,222.3 L416.7,222.4 L417.7,222.4 L418.7,222.6 L419.7,222.6 L420.8,223.3 L421.8,223.3 L422.8,222.9 L423.8,222.9 L424.8,223.1 L425.8,223.1 L426.8,223.4 L427.8,223.4 L428.9,222.6 L429.9,222.6 L430.9,223.4 L431.9,223.4 L432.9,223.6 L433.9,223.6 L434.9,222.0 L435.9,222.0 L437.0,223.7 L438.0,223.7 L439.0,223.2 L440.0,223.2 L441.0,222.0 L442.0,222.0 L443.0,222.6 L444.1,222.5 L445.1,222.8 L446.1,222.8 L447.1,223.3 L448.1,223.2 L449.1,222.1 L450.1,222.1 L451.2,222.4 L452.2,222.3 L453.2,222.9 L454.2,222.9 L455.2,222.6 L456.2,222.6 L457.3,222.8 L458.3,222.8 L459.3,221.8 L460.3,221.7 L461.3,221.7 L462.3,221.4 L463.3,220.1 L464.4,219.7 L465.4,220.4 L466.4,220.0 L467.4,219.8 L468.4,219.4 L469.4,219.1 L470.5,219.1 L470.9,220.2 L471.2,221.3 L471.6,221.3 L472.0,222.3 L472.4,224.7 L472.8,225.7 L473.1,226.8 L473.5,227.9 L473.7,228.9 L473.8,229.9 L474.0,230.0 L474.1,231.0 L474.3,232.6 L474.4,233.6 L474.6,233.6 L474.7,234.7 L474.9,236.9 L475.0,237.9 L475.2,238.8 L475.3,239.8 L475.5,239.8 L475.6,240.8 L475.8,241.3 L475.9,242.3 L476.1,244.0 L476.2,245.0 L476.4,246.3 L476.5,247.3 L476.7,248.7 L476.8,249.8 L477.0,250.2 L477.1,251.2 L477.3,251.3 L477.4,252.3 L477.6,254.9 L478.6,255.3 L479.6,254.1 L480.6,254.4 L480.8,254.9 L480.9,253.9 L481.1,251.6 L481.2,250.6 L481.4,249.9 L481.5,248.9 L481.7,248.8 L481.8,247.8 L482.0,245.4 L482.1,244.4 L482.3,243.4 L482.5,242.4 L482.6,242.1 L482.8,241.1 L482.9,240.5 L483.1,239.5 L483.2,238.7 L483.4,237.7 L483.5,236.4 L483.7,235.4 L484.7,235.4 L485.7,234.9 L486.7,233.5 L487.7,233.0 L488.7,234.4 L489.7,234.4 L490.8,231.7 L491.8,231.7 L492.8,232.1 L493.8,232.1 L494.9,233.1 L495.9,233.1 L496.9,232.3 L497.9,232.3 L499.0,233.7 L500.0,233.7 L501.0,233.4 L502.0,233.5 L503.0,233.2 L504.0,233.2 L505.1,234.3 L506.1,234.3 L507.1,233.5 L508.1,233.5 L509.1,232.8 L510.1,232.8 L511.1,233.1 L512.2,233.2 L513.2,234.7 L514.2,234.8 L515.2,235.0 L516.2,235.0 L517.2,232.9 L518.3,232.9 L519.3,235.0 L520.3,235.1 L521.3,235.5 L522.2,236.0 L523.1,235.0 L524.1,235.5 L525.0,236.1 L525.9,236.6 L526.8,235.8 L527.7,236.3 L528.6,237.8 L529.6,238.3 L530.5,238.6 L531.4,239.1 L532.4,239.7 L533.4,240.0 L534.5,238.5 L535.5,238.8 L536.5,242.1 L537.5,242.4 L538.5,241.3 L539.6,241.6 L540.6,241.5 L541.6,241.8 L542.5,243.6 L543.4,244.2 L544.4,244.0 L545.3,244.5 L546.2,244.8 L547.1,245.4 L548.0,246.6 L548.9,247.1 L549.9,245.7 L550.8,246.3 L551.7,248.3 L552.6,248.8 L553.6,248.9 L554.5,249.3 L555.4,251.5 L556.3,252.0 L557.3,252.3 L558.2,252.8 L559.1,251.2 L560.0,251.6 L561.0,252.8 L561.9,253.2 L562.8,252.6 L563.8,253.0 L564.7,254.5 L565.6,254.9 L566.5,256.6 L567.5,257.1 L568.4,257.8 L569.3,258.3 L570.2,257.4 L571.2,257.9 L572.1,257.8 L573.1,258.2 L574.1,258.2 L575.1,258.5 L576.2,260.3 L577.2,260.7 L578.2,262.0 L579.2,262.4 L580.2,260.2" fill="none" stroke="#000080" stroke-width="3.3" stroke-linejoin="round" stroke-linecap="round" />
<path d="M252.7,294.5 L254.5,293.6 L256.3,292.7 L258.1,291.8 L260.0,290.9 L261.8,290.0 L263.6,289.1 L265.4,288.1 L267.1,287.0 L268.8,285.8 L270.5,284.6 L272.2,283.4 L273.9,282.2 L275.6,281.0 L277.3,279.8 L278.9,278.7 L280.6,277.5 L282.3,276.3 L284.0,275.2 L285.7,274.0 L287.4,272.8 L289.1,271.7 L290.8,270.5 L292.6,269.5 L294.4,268.5 L296.2,267.5 L298.1,266.5 L299.9,265.5 L301.7,264.6 L303.5,263.7 L305.5,262.9 L307.4,262.3 L309.4,261.6 L311.3,261.0 L313.3,260.3 L315.2,259.7 L317.3,259.2 L319.4,258.8 L321.5,258.4 L323.6,258.0 L325.7,257.6 L327.8,257.2 L329.9,256.9 L331.9,256.7 L334.0,256.5 L336.0,256.3 L338.0,256.1 L340.1,255.9 L342.1,255.7 L344.1,255.5 L346.2,255.3 L348.2,255.1 L350.2,255.0 L352.3,254.8 L354.3,254.6 L356.3,254.5 L358.3,254.5 L360.3,254.5 L362.3,254.4 L364.3,254.4 L366.3,254.3 L368.3,254.3 L370.3,254.2 L372.3,254.2 L374.4,254.2 L376.4,254.1 L378.4,254.1 L380.4,254.0 L382.4,254.0 L384.4,254.0 L386.4,253.9 L388.4,253.9 L390.4,253.8 L392.4,253.8 L394.4,253.8 L396.5,253.8 L398.5,253.7 L400.5,253.7 L402.5,253.7 L404.6,253.7 L406.6,253.7 L408.6,253.6 L410.6,253.6 L412.7,253.6 L414.7,253.6 L416.7,253.5 L418.7,253.5 L420.8,253.5 L422.8,253.5 L424.8,253.5 L426.8,253.4 L428.9,253.4 L430.9,253.4 L432.9,253.4 L434.9,253.4 L437.0,253.3 L439.0,253.3 L441.0,253.1 L443.0,252.9 L445.1,252.6 L447.1,252.3 L449.1,252.0 L451.2,251.7 L453.2,251.4 L455.2,251.1 L457.2,250.8 L459.3,250.5 L461.3,250.2 L463.3,249.9 L465.4,249.6 L467.4,249.5 L469.3,250.0 L470.6,251.4 L471.3,253.3 L471.9,255.3 L472.4,257.4 L473.0,259.4 L473.4,261.4 L473.8,263.4 L474.2,265.5 L474.5,267.5 L474.8,269.5 L475.1,271.6 L475.5,273.6 L475.8,275.6 L476.1,277.7 L476.5,279.7 L476.8,281.7 L477.1,283.8 L477.6,285.5 L478.8,286.2 L480.1,285.4 L480.9,283.8 L481.3,281.7 L481.6,279.7 L482.0,277.7 L482.3,275.6 L482.7,273.6 L483.0,271.6 L483.4,269.5 L483.9,267.6 L484.8,265.8 L486.0,264.0 L487.2,262.4 L488.8,261.3 L490.8,260.6 L492.8,260.1 L494.9,259.8 L496.9,260.2 L498.7,261.6 L500.4,263.2 L502.1,264.0 L503.9,263.6 L505.4,262.3 L506.6,260.6 L508.1,259.6 L510.1,259.4 L512.1,259.4 L514.2,259.4 L516.2,259.6 L518.1,260.0 L520.0,260.7 L521.9,261.3 L523.8,261.9 L525.7,262.6 L527.6,263.2 L529.5,263.9 L531.4,264.6 L533.2,265.5 L535.0,266.4 L536.8,267.4 L538.6,268.3 L540.4,269.3 L542.2,270.2 L544.0,271.2 L545.8,272.1 L547.5,273.2 L549.2,274.3 L550.9,275.4 L552.6,276.6 L554.3,277.7 L556.0,278.8 L557.7,280.0 L559.4,281.1 L561.1,282.2 L562.8,283.4 L564.5,284.5 L566.3,285.7 L568.0,286.8 L569.7,288.0 L571.5,289.1 L573.2,290.3 L575.0,291.4 L576.7,292.6 L578.5,293.7 L580.2,294.9 L580.2,294.9" fill="none" stroke="#8010f0" stroke-width="3.0" stroke-linejoin="round" stroke-linecap="round" />
<ellipse cx="478.5" cy="207" rx="17" ry="28.5" transform="rotate(-14 478.5 207)" fill="none" stroke="#444" stroke-width="1"/>
<path d="M738.1,304.6 L740.1,302.3 L742.2,301.5 L744.2,300.5 L746.3,300.1 L748.3,298.5 L750.4,297.4 L752.5,296.8 L754.5,294.9 L756.6,294.8 L758.6,293.3 L759.1,278.9 L758.6,97.9 L759.1,94.3 L760.1,103.9 L761.0,278.9 L761.5,290.9 L762.2,289.1 L764.3,289.0 L766.3,287.8 L768.3,287.0 L770.4,286.8 L772.4,285.9 L774.5,285.1 L776.5,284.4 L778.6,283.8 L780.6,282.5 L782.6,281.8 L784.7,281.8 L786.7,281.0 L788.8,280.1" fill="none" stroke="#000000" stroke-width="3.0" stroke-linejoin="round" stroke-linecap="round" />
<path d="M788.8,302.5 L790.9,301.9 L793.1,300.4 L795.2,299.6 L797.3,297.5 L799.5,297.1 L801.6,296.1 L803.8,295.1 L805.9,293.0 L808.1,292.1 L808.5,277.7 L808.3,75.0 L808.8,71.4 L809.8,81.0 L810.7,277.7 L811.0,289.7 L811.7,288.2 L813.8,288.3 L816.0,286.4 L818.1,286.8 L820.2,285.8 L822.4,283.7 L824.5,283.1 L826.6,283.0 L828.8,281.4 L830.9,280.3 L833.0,280.7 L835.2,279.2 L837.3,278.9 L839.4,277.7" fill="none" stroke="#e80000" stroke-width="3.0" stroke-linejoin="round" stroke-linecap="round" />
<path d="M839.4,302.9 L841.6,302.2 L843.7,301.5 L845.9,299.3 L848.0,298.5 L850.2,298.1 L852.3,297.4 L854.4,296.3 L856.6,293.8 L858.7,293.3 L859.2,278.9 L859.0,79.8 L859.5,76.2 L860.4,85.8 L861.4,278.9 L861.6,289.7 L862.3,288.5 L864.5,288.2 L866.6,287.1 L868.8,286.7 L870.9,285.2 L873.0,284.3 L875.2,283.6 L877.3,282.8 L879.4,282.9 L881.6,282.2 L883.7,281.6 L885.8,280.2 L888.0,279.5 L890.1,279.3" fill="none" stroke="#0000f0" stroke-width="3.0" stroke-linejoin="round" stroke-linecap="round" />
<path d="M890.1,303.7 L892.2,303.5 L894.4,302.6 L896.5,301.3 L898.7,298.7 L900.8,297.5 L903.0,297.7 L905.1,295.7 L907.3,295.0 L909.4,293.3 L909.9,278.9 L910.1,83.4 L910.6,79.8 L911.6,89.5 L912.5,278.9 L912.3,289.7 L913.0,288.2 L915.2,287.8 L917.3,287.2 L919.4,286.4 L921.6,286.1 L923.7,284.5 L925.8,284.9 L928.0,284.5 L930.1,282.8 L932.2,282.6 L934.4,282.4 L936.5,281.2 L938.6,280.2 L940.8,280.1" fill="none" stroke="#ff00ff" stroke-width="3.0" stroke-linejoin="round" stroke-linecap="round" />
<path d="M940.8,304.9 L942.9,304.8 L945.1,302.2 L947.2,303.7 L949.3,302.3 L951.5,300.9 L953.6,300.2 L955.8,298.4 L957.9,296.6 L960.1,295.7 L960.5,281.3 L960.8,135.3 L961.3,131.7 L962.2,141.3 L963.2,281.3 L963.0,292.1 L963.7,291.3 L965.8,290.0 L968.0,290.8 L970.1,289.2 L972.2,286.3 L974.4,287.8 L976.5,286.2 L978.6,285.4 L980.8,284.6 L982.9,282.2 L985.0,283.1 L987.2,282.1 L989.3,280.5 L991.4,278.9" fill="none" stroke="#008000" stroke-width="3.0" stroke-linejoin="round" stroke-linecap="round" />
<path d="M991.4,307.0 L993.6,306.0 L995.7,304.3 L997.9,303.7 L1000.0,301.6 L1002.2,301.0 L1004.3,300.1 L1006.4,298.3 L1008.6,297.8 L1010.7,297.0 L1011.2,282.5 L1011.0,79.8 L1011.5,76.2 L1012.4,85.8 L1013.4,282.5 L1013.6,293.3 L1014.3,292.3 L1016.4,291.4 L1018.4,289.8 L1020.5,290.1 L1022.5,288.7 L1024.6,287.2 L1026.6,286.8 L1028.6,285.7 L1030.7,284.8 L1032.7,283.6 L1034.8,283.6 L1036.8,282.1 L1038.8,281.3 L1040.9,280.1" fill="none" stroke="#000080" stroke-width="3.0" stroke-linejoin="round" stroke-linecap="round" />
<path d="M1040.9,306.3 L1043.1,305.5 L1045.3,302.9 L1047.5,302.7 L1049.7,301.8 L1051.9,299.9 L1054.1,299.0 L1056.3,297.3 L1058.5,296.4 L1060.7,295.7 L1061.2,281.3 L1061.6,97.9 L1062.1,94.3 L1063.1,103.9 L1064.1,281.3 L1063.1,293.3 L1063.8,291.9 L1065.9,290.6 L1068.1,289.9 L1070.2,290.0 L1072.3,288.5 L1074.5,287.5 L1076.6,287.3 L1078.7,285.7 L1080.9,285.5 L1083.0,284.0 L1085.2,283.3 L1087.3,281.2 L1089.4,281.1 L1091.6,280.1" fill="none" stroke="#8010f0" stroke-width="3.0" stroke-linejoin="round" stroke-linecap="round" />
<path d="M759.8,91.9 L761.3,90.6 L762.9,89.2 L764.4,87.9 L766.0,86.6 L767.5,85.3 L769.2,84.2 L771.0,83.1 L772.8,82.0 L774.6,80.9 L776.4,79.9 L778.2,78.8 L780.0,77.8 L781.9,76.8 L783.8,75.9 L785.7,75.1 L787.7,74.4 L789.7,73.7 L791.7,73.0 L793.7,72.3 L795.6,71.6 L797.6,70.9 L799.6,70.3 L801.6,69.9 L803.6,69.6 L805.6,69.3 L807.6,69.0 L809.6,68.7 L811.5,68.5 L813.5,68.2 L815.5,68.0 L817.6,67.9 L819.7,68.0 L821.8,68.1 L823.9,68.3 L826.0,68.4 L828.1,68.6 L830.2,68.7 L832.3,68.9 L834.4,69.2 L836.4,69.6 L838.4,70.0 L840.4,70.4 L842.3,70.9 L844.3,71.3 L846.3,71.7 L848.3,72.2 L850.3,72.6 L852.4,73.1 L854.4,73.6 L856.5,74.1 L858.6,74.6 L860.6,75.2 L862.7,75.6 L864.7,75.9 L866.8,75.9 L868.8,75.8 L870.8,75.6 L872.8,75.4 L874.8,75.2 L876.8,75.0 L878.8,74.8 L880.8,74.6 L882.9,74.4 L884.9,74.2 L886.9,74.0 L888.9,73.9 L891.0,74.0 L893.0,74.1 L895.1,74.3 L897.2,74.5 L899.2,74.6 L901.3,74.9 L903.3,75.2 L905.3,75.7 L907.2,76.4 L909.2,77.2 L911.1,77.9 L912.9,78.8 L914.8,79.7 L916.5,80.8 L918.3,81.9 L920.0,83.0 L921.6,84.2 L923.0,85.7 L924.1,87.3 L925.1,89.1 L926.0,90.8 L927.0,92.6 L928.0,94.4 L928.9,96.2 L929.8,98.0 L930.7,99.9 L931.5,101.9 L932.3,103.9 L933.1,105.9 L933.9,107.9 L934.8,109.8 L935.8,111.7 L936.8,113.4 L937.8,115.1 L938.9,116.9 L939.9,118.6 L941.0,120.3 L942.2,121.8 L943.6,123.2 L945.2,124.4 L946.8,125.7 L948.4,126.9 L950.0,128.0 L951.8,128.9 L953.8,129.5 L955.9,129.8 L958.1,130.1 L960.2,130.2 L962.3,130.0 L964.5,129.7 L966.6,129.1 L968.7,128.6 L970.8,127.8 L972.6,126.9 L974.4,125.9 L976.2,124.8 L977.9,123.7 L979.6,122.5 L981.3,121.2 L982.8,119.8 L984.3,118.3 L985.8,116.8 L987.3,115.4 L988.7,113.8 L990.0,112.3 L991.2,110.6 L992.3,108.9 L993.3,107.2 L994.4,105.5 L995.4,103.8 L996.4,102.0 L997.4,100.3 L998.2,98.4 L999.1,96.6 L999.9,94.7 L1000.7,92.8 L1001.5,90.9 L1002.3,89.1 L1003.1,87.2 L1003.9,85.3 L1005.0,83.6 L1006.2,82.0 L1007.6,80.5 L1009.0,79.1 L1010.5,77.7 L1012.2,76.6 L1014.1,75.7 L1016.2,75.1 L1018.4,74.6 L1020.5,74.2 L1022.6,74.2 L1024.6,74.4 L1026.6,74.8 L1028.6,75.2 L1030.6,75.6 L1032.6,76.1 L1034.5,76.8 L1036.4,77.6 L1038.3,78.5 L1040.1,79.4 L1042.0,80.4 L1043.8,81.3 L1045.7,82.3 L1047.4,83.3 L1049.2,84.3 L1050.9,85.3 L1052.6,86.4 L1054.3,87.4 L1056.1,88.4 L1057.8,89.5 L1059.5,90.7 L1061.2,91.9 L1062.8,93.1 L1064.5,94.3 L1066.2,95.5 L1066.2,95.5" fill="none" stroke="#000" stroke-width="6.2" stroke-linejoin="round" stroke-linecap="round" stroke-dasharray="6.5,13"/>
<rect x="886.5" y="30.4" width="150.8" height="148.8" fill="none" stroke="#555" stroke-width="1.3" stroke-dasharray="4,3"/>
<path d="M251.4,651.0 L252.3,651.5 L253.2,650.0 L254.1,650.0 L255.0,648.6 L255.9,649.7 L256.8,650.2 L257.7,649.2 L258.6,650.0 L259.5,650.4 L260.4,648.1 L261.3,648.1 L262.2,650.3 L263.1,650.7 L264.0,647.9 L264.9,650.7 L265.8,650.4 L266.7,648.9 L267.6,648.1 L268.5,650.2 L269.4,648.6 L270.3,649.6 L271.2,647.3 L272.1,648.4 L273.0,647.2 L273.9,647.6 L274.8,649.7 L275.7,648.9 L276.6,649.4 L277.5,649.2 L278.4,650.2 L279.3,647.8 L280.2,649.8 L281.1,649.0 L282.0,647.9 L282.9,648.9 L283.8,649.2 L284.7,647.9 L285.6,650.6 L286.5,650.4 L287.4,647.8 L288.3,649.1 L289.2,648.2 L290.1,648.2 L291.0,650.2 L291.9,650.1 L292.8,649.7 L293.7,649.3 L294.6,651.0 L295.5,648.7 L296.4,650.4 L297.3,649.1 L298.2,649.3 L299.1,649.7 L300.0,651.7 L300.0,662.6 L299.1,663.6 L298.2,664.1 L297.3,662.8 L296.4,663.8 L295.5,663.9 L294.6,661.5 L293.7,663.6 L292.8,661.8 L291.9,662.3 L291.0,662.8 L290.1,661.2 L289.2,662.5 L288.3,662.7 L287.4,661.4 L286.5,660.6 L285.6,663.2 L284.7,660.9 L283.8,662.3 L282.9,661.5 L282.0,661.5 L281.1,660.1 L280.2,661.1 L279.3,658.4 L278.4,659.6 L277.5,659.6 L276.6,657.7 L275.7,656.9 L274.8,657.7 L273.9,658.6 L273.0,659.6 L272.1,659.1 L271.2,660.9 L270.3,661.2 L269.4,662.7 L268.5,662.2 L267.6,661.7 L266.7,663.4 L265.8,661.8 L264.9,660.8 L264.0,663.8 L263.1,663.2 L262.2,662.1 L261.3,661.5 L260.4,661.8 L259.5,662.1 L258.6,662.1 L257.7,663.4 L256.8,662.5 L255.9,663.1 L255.0,664.4 L254.1,663.4 L253.2,662.0 L252.3,662.0 L251.4,661.7 Z" fill="#000000" stroke="#000000" stroke-width="1.2" stroke-linejoin="round"/>
<path d="M274.5,653.8 L275.2,546.0 L276.1,544.0 L277.0,546.0 L277.7,653.8 Z" fill="#000000" stroke="#000000" stroke-width="1.3" stroke-linejoin="round"/>
<path d="M300.6,646.2 L301.5,647.4 L302.4,645.6 L303.3,647.2 L304.2,644.6 L305.1,645.8 L306.0,645.2 L306.9,644.4 L307.8,646.2 L308.7,645.0 L309.6,646.1 L310.5,644.3 L311.4,646.0 L312.3,644.0 L313.2,645.3 L314.1,646.4 L315.0,644.7 L315.9,644.1 L316.8,644.3 L317.7,645.8 L318.6,643.9 L319.5,643.9 L320.4,643.9 L321.3,644.5 L322.2,644.5 L323.1,644.9 L324.0,646.0 L324.9,645.4 L325.8,647.1 L326.7,646.1 L327.6,645.5 L328.5,643.2 L329.4,645.3 L330.3,642.9 L331.2,645.5 L332.1,644.7 L333.0,645.2 L333.9,643.7 L334.8,645.5 L335.7,645.6 L336.6,644.4 L337.5,645.6 L338.4,645.3 L339.3,645.9 L340.2,645.1 L341.1,646.0 L342.0,646.5 L342.9,646.9 L343.8,646.1 L344.7,646.4 L345.6,645.6 L346.5,644.7 L347.4,647.5 L348.3,644.9 L349.2,645.8 L349.2,666.4 L348.3,666.0 L347.4,666.5 L346.5,667.6 L345.6,666.6 L344.7,667.7 L343.8,666.8 L342.9,668.1 L342.0,667.6 L341.1,667.5 L340.2,667.4 L339.3,667.5 L338.4,666.8 L337.5,665.9 L336.6,667.2 L335.7,665.2 L334.8,665.4 L333.9,664.2 L333.0,665.3 L332.1,663.3 L331.2,662.6 L330.3,664.2 L329.4,661.4 L328.5,662.0 L327.6,661.6 L326.7,660.6 L325.8,657.1 L324.9,657.2 L324.0,661.6 L323.1,660.6 L322.2,663.6 L321.3,664.2 L320.4,662.9 L319.5,664.0 L318.6,664.3 L317.7,664.2 L316.8,666.7 L315.9,664.9 L315.0,666.7 L314.1,667.2 L313.2,667.4 L312.3,666.8 L311.4,665.9 L310.5,665.9 L309.6,665.8 L308.7,667.3 L307.8,665.3 L306.9,665.8 L306.0,667.7 L305.1,667.5 L304.2,667.1 L303.3,665.6 L302.4,665.7 L301.5,666.8 L300.6,667.9 Z" fill="#e80000" stroke="#e80000" stroke-width="1.2" stroke-linejoin="round"/>
<path d="M324.1,651.8 L324.8,500.3 L325.7,498.3 L326.6,500.3 L327.3,651.8 Z" fill="#e80000" stroke="#e80000" stroke-width="1.3" stroke-linejoin="round"/>
<path d="M349.7,651.2 L350.6,649.0 L351.5,650.1 L352.4,648.6 L353.3,649.4 L354.2,650.8 L355.1,648.2 L356.0,648.5 L356.9,650.0 L357.8,648.4 L358.7,648.5 L359.6,650.0 L360.5,649.2 L361.4,648.9 L362.3,650.1 L363.2,648.3 L364.1,650.2 L365.0,647.7 L365.9,649.9 L366.8,648.0 L367.7,648.3 L368.6,649.7 L369.5,647.3 L370.4,648.0 L371.3,649.1 L372.2,648.6 L373.1,647.4 L374.0,648.3 L374.9,649.9 L375.8,650.6 L376.7,648.6 L377.6,649.1 L378.5,649.2 L379.4,649.1 L380.3,647.4 L381.2,646.9 L382.1,648.2 L383.0,648.6 L383.9,647.9 L384.8,648.3 L385.7,647.4 L386.6,647.9 L387.5,649.0 L388.4,650.0 L389.3,648.5 L390.2,648.5 L391.1,649.9 L392.0,649.9 L392.9,649.0 L393.8,650.9 L394.7,649.9 L395.6,649.1 L396.5,648.7 L397.4,649.4 L398.3,651.2 L398.3,664.6 L397.4,662.0 L396.5,663.7 L395.6,664.2 L394.7,661.9 L393.8,664.4 L392.9,663.2 L392.0,662.0 L391.1,662.8 L390.2,663.0 L389.3,661.7 L388.4,662.3 L387.5,661.7 L386.6,662.9 L385.7,663.6 L384.8,663.8 L383.9,663.2 L383.0,663.2 L382.1,663.3 L381.2,661.5 L380.3,661.9 L379.4,659.5 L378.5,661.4 L377.6,658.0 L376.7,657.7 L375.8,656.9 L374.9,656.6 L374.0,658.8 L373.1,658.2 L372.2,658.5 L371.3,661.0 L370.4,660.4 L369.5,659.7 L368.6,662.1 L367.7,661.1 L366.8,662.2 L365.9,663.2 L365.0,661.0 L364.1,662.5 L363.2,662.9 L362.3,664.2 L361.4,662.2 L360.5,664.1 L359.6,662.5 L358.7,662.2 L357.8,662.3 L356.9,663.6 L356.0,662.5 L355.1,662.4 L354.2,662.0 L353.3,663.8 L352.4,662.2 L351.5,664.5 L350.6,662.4 L349.7,662.3 Z" fill="#0000f0" stroke="#0000f0" stroke-width="1.2" stroke-linejoin="round"/>
<path d="M373.3,653.5 L374.0,506.0 L374.9,504.0 L375.8,506.0 L376.5,653.5 Z" fill="#0000f0" stroke="#0000f0" stroke-width="1.3" stroke-linejoin="round"/>
<path d="M398.9,648.8 L399.8,649.1 L400.7,649.8 L401.6,649.2 L402.5,650.2 L403.4,648.7 L404.3,649.0 L405.2,649.7 L406.1,649.0 L407.0,648.2 L407.9,648.1 L408.8,650.0 L409.7,649.0 L410.6,649.5 L411.5,648.3 L412.4,647.9 L413.3,647.7 L414.2,648.7 L415.1,649.3 L416.0,649.8 L416.9,648.2 L417.8,647.2 L418.7,649.3 L419.6,649.7 L420.5,649.2 L421.4,648.5 L422.3,649.9 L423.2,649.6 L424.1,651.7 L425.0,650.2 L425.9,650.2 L426.8,649.1 L427.7,648.8 L428.6,649.4 L429.5,648.7 L430.4,649.8 L431.3,650.2 L432.2,647.9 L433.1,648.1 L434.0,649.6 L434.9,650.4 L435.8,649.0 L436.7,650.7 L437.6,650.5 L438.5,649.5 L439.4,648.6 L440.3,651.0 L441.2,649.8 L442.1,650.6 L443.0,650.8 L443.9,649.8 L444.8,648.6 L445.7,648.3 L446.6,648.7 L447.5,651.1 L448.4,649.1 L448.4,664.3 L447.5,664.2 L446.6,665.2 L445.7,662.2 L444.8,663.8 L443.9,664.6 L443.0,662.7 L442.1,662.8 L441.2,662.3 L440.3,664.4 L439.4,664.7 L438.5,663.5 L437.6,663.4 L436.7,662.0 L435.8,661.8 L434.9,662.5 L434.0,662.3 L433.1,662.9 L432.2,661.2 L431.3,662.8 L430.4,661.2 L429.5,662.5 L428.6,663.1 L427.7,659.9 L426.8,660.0 L425.9,661.0 L425.0,657.6 L424.1,658.4 L423.2,658.5 L422.3,658.3 L421.4,659.8 L420.5,659.4 L419.6,661.9 L418.7,663.3 L417.8,661.7 L416.9,662.0 L416.0,662.1 L415.1,663.5 L414.2,662.8 L413.3,664.3 L412.4,662.7 L411.5,662.0 L410.6,661.9 L409.7,664.3 L408.8,662.3 L407.9,664.0 L407.0,662.3 L406.1,664.5 L405.2,664.3 L404.3,665.0 L403.4,664.4 L402.5,662.9 L401.6,663.3 L400.7,663.1 L399.8,663.3 L398.9,664.1 Z" fill="#ff00ff" stroke="#ff00ff" stroke-width="1.2" stroke-linejoin="round"/>
<path d="M422.4,653.5 L423.1,512.9 L424.0,510.9 L424.9,512.9 L425.6,653.5 Z" fill="#ff00ff" stroke="#ff00ff" stroke-width="1.3" stroke-linejoin="round"/>
<path d="M449.1,648.9 L450.0,648.4 L450.9,646.5 L451.8,647.9 L452.7,647.6 L453.6,646.9 L454.5,647.1 L455.4,647.3 L456.3,646.3 L457.2,646.6 L458.1,647.9 L459.0,647.3 L459.9,648.1 L460.8,648.2 L461.7,648.9 L462.6,648.3 L463.5,646.9 L464.4,648.3 L465.3,647.0 L466.2,648.1 L467.1,645.3 L468.0,648.0 L468.9,647.1 L469.8,646.2 L470.7,645.8 L471.6,647.5 L472.5,648.1 L473.4,649.4 L474.3,647.0 L475.2,646.9 L476.1,645.6 L477.0,648.3 L477.9,647.9 L478.8,647.7 L479.7,647.6 L480.6,648.1 L481.5,647.9 L482.4,647.2 L483.3,645.5 L484.2,646.6 L485.1,645.9 L486.0,648.4 L486.9,647.1 L487.8,646.1 L488.7,648.9 L489.6,647.7 L490.5,649.3 L491.4,646.9 L492.3,649.3 L493.2,647.0 L494.1,647.5 L495.0,647.0 L495.9,649.7 L496.8,648.6 L497.7,649.4 L497.7,663.7 L496.8,664.1 L495.9,664.1 L495.0,666.3 L494.1,664.9 L493.2,666.0 L492.3,666.2 L491.4,664.2 L490.5,664.7 L489.6,666.1 L488.7,664.0 L487.8,663.1 L486.9,664.7 L486.0,664.0 L485.1,665.5 L484.2,663.6 L483.3,663.2 L482.4,665.3 L481.5,662.4 L480.6,662.1 L479.7,663.3 L478.8,661.9 L477.9,662.1 L477.0,662.3 L476.1,662.4 L475.2,659.4 L474.3,658.4 L473.4,657.6 L472.5,656.6 L471.6,659.5 L470.7,659.4 L469.8,661.7 L468.9,662.8 L468.0,663.2 L467.1,663.6 L466.2,662.6 L465.3,663.2 L464.4,663.8 L463.5,664.1 L462.6,663.7 L461.7,665.3 L460.8,664.3 L459.9,665.2 L459.0,664.9 L458.1,664.5 L457.2,666.1 L456.3,665.3 L455.4,665.3 L454.5,665.1 L453.6,665.0 L452.7,665.2 L451.8,663.9 L450.9,664.1 L450.0,666.1 L449.1,664.8 Z" fill="#008000" stroke="#008000" stroke-width="1.2" stroke-linejoin="round"/>
<path d="M471.5,652.8 L472.2,516.3 L473.1,514.3 L474.0,516.3 L474.7,652.8 Z" fill="#008000" stroke="#008000" stroke-width="1.3" stroke-linejoin="round"/>
<path d="M498.3,649.0 L499.2,649.6 L500.1,651.4 L501.0,649.0 L501.9,651.5 L502.8,648.7 L503.7,649.4 L504.6,649.0 L505.5,649.1 L506.4,650.8 L507.3,650.4 L508.2,650.1 L509.1,649.1 L510.0,650.2 L510.9,650.0 L511.8,651.0 L512.7,649.5 L513.6,647.9 L514.5,648.6 L515.4,650.2 L516.3,648.5 L517.2,648.4 L518.1,649.3 L519.0,650.6 L519.9,648.0 L520.8,650.7 L521.7,651.9 L522.6,649.7 L523.5,650.5 L524.4,650.1 L525.3,649.4 L526.2,650.3 L527.1,649.2 L528.0,648.1 L528.9,648.1 L529.8,648.4 L530.7,650.2 L531.6,650.3 L532.5,649.4 L533.4,649.8 L534.3,648.1 L535.2,650.4 L536.1,651.0 L537.0,648.7 L537.9,649.9 L538.8,649.7 L539.7,650.9 L540.6,651.3 L541.5,650.2 L542.4,649.3 L543.3,649.5 L544.2,649.6 L545.1,650.3 L546.0,650.5 L546.9,651.3 L546.9,662.2 L546.0,661.9 L545.1,662.4 L544.2,663.6 L543.3,661.7 L542.4,662.0 L541.5,664.0 L540.6,663.2 L539.7,661.6 L538.8,662.2 L537.9,662.7 L537.0,661.3 L536.1,661.7 L535.2,662.9 L534.3,662.9 L533.4,662.5 L532.5,661.5 L531.6,661.4 L530.7,663.0 L529.8,661.7 L528.9,662.0 L528.0,662.3 L527.1,662.6 L526.2,661.3 L525.3,660.2 L524.4,660.4 L523.5,658.2 L522.6,657.6 L521.7,657.9 L520.8,658.6 L519.9,659.6 L519.0,661.9 L518.1,659.9 L517.2,660.5 L516.3,662.3 L515.4,660.4 L514.5,661.2 L513.6,662.5 L512.7,662.4 L511.8,662.2 L510.9,661.2 L510.0,661.9 L509.1,664.0 L508.2,661.9 L507.3,664.1 L506.4,662.5 L505.5,663.5 L504.6,662.0 L503.7,663.7 L502.8,662.2 L501.9,662.9 L501.0,663.8 L500.1,663.9 L499.2,664.5 L498.3,664.0 Z" fill="#000080" stroke="#000080" stroke-width="1.2" stroke-linejoin="round"/>
<path d="M520.7,653.8 L521.4,538.0 L522.3,536.0 L523.2,538.0 L523.9,653.8 Z" fill="#000080" stroke="#000080" stroke-width="1.3" stroke-linejoin="round"/>
<path d="M547.4,649.4 L548.3,650.8 L549.2,651.1 L550.1,649.9 L551.0,649.2 L551.9,648.6 L552.8,650.9 L553.7,648.9 L554.6,650.7 L555.5,649.1 L556.4,648.7 L557.3,649.1 L558.2,648.4 L559.1,651.2 L560.0,650.3 L560.9,648.7 L561.8,648.6 L562.7,650.7 L563.6,648.8 L564.5,649.6 L565.4,648.9 L566.3,647.8 L567.2,649.8 L568.1,649.6 L569.0,649.4 L569.9,651.0 L570.8,651.4 L571.7,650.3 L572.6,650.2 L573.5,648.7 L574.4,649.3 L575.3,649.1 L576.2,649.7 L577.1,648.2 L578.0,647.8 L578.9,648.8 L579.8,647.8 L580.7,648.6 L581.6,650.8 L582.5,648.8 L583.4,648.5 L584.3,649.2 L585.2,650.5 L586.1,648.3 L587.0,649.5 L587.9,651.2 L588.8,650.8 L589.7,648.6 L590.6,649.2 L591.5,649.0 L592.4,648.6 L593.3,649.9 L594.2,649.0 L595.1,649.5 L596.0,650.8 L596.9,649.3 L596.9,662.6 L596.0,662.1 L595.1,663.9 L594.2,663.9 L593.3,663.3 L592.4,662.5 L591.5,663.4 L590.6,661.6 L589.7,662.7 L588.8,663.0 L587.9,662.4 L587.0,661.5 L586.1,662.2 L585.2,664.0 L584.3,663.5 L583.4,664.0 L582.5,662.0 L581.6,663.0 L580.7,661.9 L579.8,661.1 L578.9,661.2 L578.0,662.3 L577.1,661.1 L576.2,662.3 L575.3,662.3 L574.4,659.6 L573.5,658.6 L572.6,657.6 L571.7,656.4 L570.8,657.0 L569.9,658.6 L569.0,659.4 L568.1,661.6 L567.2,662.0 L566.3,660.7 L565.4,662.0 L564.5,660.3 L563.6,663.5 L562.7,661.7 L561.8,662.2 L560.9,662.6 L560.0,661.6 L559.1,663.4 L558.2,661.2 L557.3,662.5 L556.4,662.5 L555.5,664.1 L554.6,661.5 L553.7,662.8 L552.8,664.6 L551.9,663.0 L551.0,664.6 L550.1,662.7 L549.2,661.8 L548.3,664.3 L547.4,662.1 Z" fill="#8010f0" stroke="#8010f0" stroke-width="1.2" stroke-linejoin="round"/>
<path d="M569.8,653.8 L570.5,536.9 L571.4,534.9 L572.3,536.9 L573.0,653.8 Z" fill="#8010f0" stroke="#8010f0" stroke-width="1.3" stroke-linejoin="round"/>
<path d="M277.7,533.7 L278.6,531.9 L279.5,530.1 L280.5,528.2 L281.4,526.4 L282.4,524.6 L283.4,522.8 L284.6,521.0 L285.7,519.2 L286.9,517.4 L288.0,515.6 L289.2,513.8 L290.5,512.2 L291.9,510.7 L293.5,509.3 L295.1,508.0 L296.7,506.6 L298.4,505.3 L300.0,503.9 L301.6,502.6 L303.3,501.3 L305.0,500.2 L306.8,499.2 L308.7,498.2 L310.6,497.3 L312.5,496.3 L314.4,495.4 L316.2,494.5 L318.1,493.5 L320.1,492.7 L322.0,492.0 L324.0,491.4 L326.0,490.9 L328.0,490.3 L330.0,489.7 L332.0,489.1 L334.0,488.6 L336.0,488.2 L338.1,487.9 L340.2,487.6 L342.3,487.5 L344.4,487.3 L346.5,487.1 L348.6,487.0 L350.7,487.0 L352.8,487.0 L354.8,487.2 L356.8,487.3 L358.9,487.4 L360.9,487.6 L362.9,487.7 L365.0,487.8 L367.0,488.0 L369.0,488.1 L371.1,488.3 L373.1,488.6 L375.2,488.8 L377.3,489.0 L379.3,489.3 L381.4,489.5 L383.4,489.7 L385.5,489.9 L387.5,490.2 L389.6,490.5 L391.6,490.9 L393.6,491.4 L395.6,491.8 L397.6,492.2 L399.6,492.6 L401.6,493.1 L403.6,493.5 L405.5,494.1 L407.5,494.6 L409.4,495.2 L411.3,495.8 L413.2,496.4 L415.2,497.0 L417.1,497.6 L419.0,498.2 L420.9,498.8 L422.8,499.5 L424.7,500.2 L426.6,501.0 L428.5,501.8 L430.4,502.7 L432.3,503.5 L434.2,504.3 L436.0,505.1 L437.9,505.8 L439.8,506.5 L441.7,507.2 L443.7,507.8 L445.6,508.4 L447.5,509.0 L449.4,509.6 L451.4,510.2 L453.3,510.8 L455.2,511.4 L457.1,512.1 L459.0,512.8 L460.9,513.6 L462.8,514.4 L464.7,515.2 L466.6,516.0 L468.4,516.8 L470.3,517.6 L472.2,518.5 L474.1,519.4 L476.0,520.3 L477.8,521.2 L479.7,522.2 L481.6,523.1 L483.5,524.0 L485.4,525.0 L487.3,525.9 L489.1,526.9 L491.0,527.9 L492.8,529.0 L494.6,530.1 L496.5,531.1 L498.3,532.2 L500.1,533.3 L502.0,534.3 L503.8,535.3 L505.7,536.3 L507.6,537.2 L509.5,538.2 L511.4,539.1 L513.3,540.0 L515.3,540.8 L517.2,541.6 L519.2,542.2 L521.1,542.9 L523.1,543.5 L525.1,544.2 L527.1,544.7 L529.1,545.1 L531.2,545.4 L533.3,545.6 L535.4,545.8 L537.5,545.9 L539.6,546.1 L541.7,546.1 L543.8,546.1 L545.9,545.9 L548.0,545.8 L550.2,545.6 L552.3,545.4 L554.3,545.1 L556.3,544.5 L558.2,543.8 L560.0,542.9 L561.8,541.9 L563.6,540.9 L565.4,539.7 L567.1,538.4 L568.9,537.0 L570.6,535.6 L571.4,534.9" fill="none" stroke="#000" stroke-width="6.2" stroke-linejoin="round" stroke-linecap="round" stroke-dasharray="6.5,13"/>
<rect x="397.3" y="497.3" width="150.7" height="113.4" fill="none" stroke="#555" stroke-width="1.3" stroke-dasharray="4,3"/>
<path d="M740.3,655.9 L741.2,654.9 L742.1,654.3 L743.0,654.7 L743.9,653.7 L744.8,655.5 L745.7,656.1 L746.6,654.4 L747.5,656.3 L748.4,655.5 L749.3,656.3 L750.2,654.0 L751.1,653.5 L752.0,654.4 L752.9,654.3 L753.8,654.6 L754.7,653.4 L755.6,654.3 L756.5,654.9 L757.4,653.0 L758.3,654.0 L759.2,654.4 L760.1,654.3 L761.0,652.7 L761.9,653.9 L762.8,654.3 L763.7,655.0 L764.6,655.6 L765.5,654.8 L766.4,654.4 L767.3,654.8 L768.2,654.9 L769.1,654.1 L770.0,655.6 L770.9,654.4 L771.8,655.1 L772.7,654.7 L773.6,654.1 L774.5,655.5 L775.4,654.1 L776.3,653.1 L777.2,654.7 L778.1,654.3 L779.0,653.7 L779.9,654.0 L780.8,654.0 L781.7,655.1 L782.6,654.2 L783.5,655.5 L784.4,655.5 L785.3,656.2 L786.2,654.6 L787.1,656.4 L788.0,655.9 L788.9,655.8 L789.8,656.3 L789.8,667.2 L788.9,669.7 L788.0,668.8 L787.1,667.6 L786.2,667.6 L785.3,669.6 L784.4,668.3 L783.5,668.2 L782.6,668.0 L781.7,667.6 L780.8,666.3 L779.9,668.4 L779.0,666.8 L778.1,669.2 L777.2,667.0 L776.3,666.3 L775.4,668.7 L774.5,668.5 L773.6,666.4 L772.7,666.7 L771.8,667.2 L770.9,667.9 L770.0,665.8 L769.1,666.2 L768.2,664.3 L767.3,663.9 L766.4,665.1 L765.5,661.2 L764.6,662.0 L763.7,664.0 L762.8,663.2 L761.9,663.9 L761.0,665.4 L760.1,666.8 L759.2,667.1 L758.3,665.6 L757.4,666.4 L756.5,666.3 L755.6,666.2 L754.7,667.1 L753.8,666.8 L752.9,667.0 L752.0,666.3 L751.1,667.5 L750.2,668.2 L749.3,669.0 L748.4,668.5 L747.5,667.1 L746.6,668.6 L745.7,669.6 L744.8,668.3 L743.9,666.6 L743.0,667.3 L742.1,667.5 L741.2,669.4 L740.3,667.9 Z" fill="#000000" stroke="#000000" stroke-width="1.2" stroke-linejoin="round"/>
<path d="M763.4,658.8 L764.1,509.0 L765.0,507.0 L765.9,509.0 L766.6,658.8 Z" fill="#000000" stroke="#000000" stroke-width="1.3" stroke-linejoin="round"/>
<path d="M789.8,651.0 L790.7,650.7 L791.6,649.8 L792.5,650.5 L793.4,649.6 L794.3,649.3 L795.2,649.1 L796.1,648.8 L797.0,650.8 L797.9,649.9 L798.8,649.9 L799.7,651.0 L800.6,648.3 L801.5,649.7 L802.4,649.2 L803.3,648.6 L804.2,648.7 L805.1,649.9 L806.0,650.0 L806.9,648.5 L807.8,649.0 L808.7,649.4 L809.6,647.9 L810.5,647.4 L811.4,646.6 L812.3,649.6 L813.2,647.2 L814.1,648.5 L815.0,649.1 L815.9,652.1 L816.8,650.8 L817.7,647.7 L818.6,649.3 L819.5,647.1 L820.4,646.7 L821.3,648.1 L822.2,647.6 L823.1,649.5 L824.0,648.2 L824.9,649.5 L825.8,648.5 L826.7,649.1 L827.6,648.0 L828.5,648.0 L829.4,648.6 L830.3,648.3 L831.2,648.1 L832.1,648.6 L833.0,649.2 L833.9,649.9 L834.8,649.3 L835.7,648.8 L836.6,649.6 L837.5,649.3 L838.4,651.9 L839.3,651.6 L839.3,672.4 L838.4,671.4 L837.5,672.2 L836.6,670.9 L835.7,673.4 L834.8,670.6 L833.9,671.5 L833.0,671.0 L832.1,672.2 L831.2,671.9 L830.3,670.9 L829.4,671.3 L828.5,672.6 L827.6,670.0 L826.7,671.8 L825.8,671.2 L824.9,671.8 L824.0,670.4 L823.1,668.9 L822.2,670.1 L821.3,668.2 L820.4,668.1 L819.5,666.5 L818.6,667.5 L817.7,663.8 L816.8,661.4 L815.9,660.4 L815.0,665.3 L814.1,665.9 L813.2,667.3 L812.3,669.2 L811.4,668.7 L810.5,668.0 L809.6,670.0 L808.7,668.7 L807.8,671.3 L806.9,671.1 L806.0,671.0 L805.1,672.0 L804.2,670.6 L803.3,672.0 L802.4,672.2 L801.5,672.6 L800.6,670.9 L799.7,673.0 L798.8,670.9 L797.9,672.9 L797.0,670.9 L796.1,670.9 L795.2,670.9 L794.3,672.4 L793.4,671.8 L792.5,671.6 L791.6,673.3 L790.7,672.1 L789.8,672.5 Z" fill="#e80000" stroke="#e80000" stroke-width="1.2" stroke-linejoin="round"/>
<path d="M814.6,656.5 L815.3,477.7 L816.2,475.7 L817.1,477.7 L817.8,656.5 Z" fill="#e80000" stroke="#e80000" stroke-width="1.3" stroke-linejoin="round"/>
<path d="M839.3,654.5 L840.2,654.4 L841.1,654.9 L842.0,655.1 L842.9,656.1 L843.8,656.2 L844.7,655.7 L845.6,653.6 L846.5,653.5 L847.4,653.2 L848.3,655.3 L849.2,654.5 L850.1,653.4 L851.0,652.8 L851.9,655.3 L852.8,654.9 L853.7,655.1 L854.6,654.9 L855.5,652.7 L856.4,653.6 L857.3,653.0 L858.2,652.2 L859.1,652.9 L860.0,653.3 L860.9,654.7 L861.8,654.2 L862.7,653.2 L863.6,653.7 L864.5,654.2 L865.4,654.6 L866.3,655.4 L867.2,653.5 L868.1,653.0 L869.0,653.7 L869.9,653.8 L870.8,653.1 L871.7,655.2 L872.6,655.0 L873.5,654.6 L874.4,655.4 L875.3,655.4 L876.2,653.7 L877.1,653.0 L878.0,654.7 L878.9,653.6 L879.8,653.8 L880.7,653.2 L881.6,654.0 L882.5,653.5 L883.4,655.7 L884.3,654.9 L885.2,654.8 L886.1,655.7 L887.0,654.5 L887.9,654.4 L888.8,653.8 L888.8,669.0 L887.9,668.3 L887.0,669.2 L886.1,669.2 L885.2,667.3 L884.3,668.5 L883.4,669.6 L882.5,668.8 L881.6,668.8 L880.7,668.8 L879.8,669.8 L878.9,667.2 L878.0,669.5 L877.1,667.3 L876.2,668.6 L875.3,666.9 L874.4,667.4 L873.5,666.2 L872.6,666.7 L871.7,666.1 L870.8,666.8 L869.9,666.0 L869.0,664.2 L868.1,664.7 L867.2,663.0 L866.3,663.7 L865.4,663.5 L864.5,664.7 L863.6,663.6 L862.7,666.9 L861.8,665.7 L860.9,666.1 L860.0,667.4 L859.1,666.8 L858.2,667.6 L857.3,668.9 L856.4,668.4 L855.5,669.3 L854.6,669.5 L853.7,669.1 L852.8,667.8 L851.9,669.2 L851.0,668.4 L850.1,669.8 L849.2,666.9 L848.3,667.9 L847.4,668.1 L846.5,667.3 L845.6,667.1 L844.7,669.4 L843.8,668.5 L842.9,669.9 L842.0,668.0 L841.1,669.2 L840.2,667.4 L839.3,669.8 Z" fill="#0000f0" stroke="#0000f0" stroke-width="1.2" stroke-linejoin="round"/>
<path d="M864.1,658.5 L864.8,476.0 L865.7,474.0 L866.6,476.0 L867.3,658.5 Z" fill="#0000f0" stroke="#0000f0" stroke-width="1.3" stroke-linejoin="round"/>
<path d="M888.8,656.0 L889.7,654.3 L890.6,655.6 L891.5,656.0 L892.4,654.6 L893.3,657.3 L894.2,655.1 L895.1,657.2 L896.0,656.8 L896.9,657.1 L897.8,654.7 L898.7,655.9 L899.6,656.5 L900.5,655.4 L901.4,653.9 L902.3,655.9 L903.2,656.2 L904.1,655.2 L905.0,654.1 L905.9,655.4 L906.8,655.1 L907.7,654.8 L908.6,655.7 L909.5,655.5 L910.4,655.9 L911.3,653.5 L912.2,653.4 L913.1,654.3 L914.0,656.1 L914.9,654.4 L915.8,657.2 L916.7,657.0 L917.6,656.7 L918.5,655.3 L919.4,655.4 L920.3,655.2 L921.2,653.1 L922.1,654.1 L923.0,654.0 L923.9,655.4 L924.8,653.7 L925.7,654.8 L926.6,653.8 L927.5,655.4 L928.4,654.2 L929.3,655.8 L930.2,654.8 L931.1,655.1 L932.0,655.8 L932.9,656.5 L933.8,655.4 L934.7,657.0 L935.6,656.2 L936.5,655.9 L937.4,656.8 L938.3,656.8 L939.2,655.6 L939.2,669.1 L938.3,668.2 L937.4,667.0 L936.5,666.9 L935.6,666.7 L934.7,667.0 L933.8,667.5 L932.9,667.2 L932.0,667.1 L931.1,666.2 L930.2,666.7 L929.3,667.9 L928.4,668.7 L927.5,666.6 L926.6,668.3 L925.7,665.6 L924.8,667.3 L923.9,665.5 L923.0,666.6 L922.1,666.5 L921.2,665.3 L920.3,665.2 L919.4,664.0 L918.5,665.7 L917.6,662.8 L916.7,661.3 L915.8,662.4 L914.9,662.8 L914.0,662.8 L913.1,665.9 L912.2,663.7 L911.3,665.2 L910.4,666.9 L909.5,666.3 L908.6,667.5 L907.7,665.7 L906.8,667.6 L905.9,665.5 L905.0,666.3 L904.1,668.2 L903.2,667.0 L902.3,666.4 L901.4,668.5 L900.5,668.9 L899.6,668.4 L898.7,668.9 L897.8,668.6 L896.9,667.5 L896.0,666.4 L895.1,667.3 L894.2,668.4 L893.3,668.5 L892.4,667.6 L891.5,669.1 L890.6,668.1 L889.7,668.2 L888.8,667.9 Z" fill="#ff00ff" stroke="#ff00ff" stroke-width="1.2" stroke-linejoin="round"/>
<path d="M914.4,659.0 L915.1,461.2 L916.0,459.2 L916.9,461.2 L917.6,659.0 Z" fill="#ff00ff" stroke="#ff00ff" stroke-width="1.3" stroke-linejoin="round"/>
<path d="M939.3,651.3 L940.2,652.0 L941.1,650.2 L942.0,650.9 L942.9,653.0 L943.8,652.1 L944.7,650.6 L945.6,650.2 L946.5,650.6 L947.4,650.8 L948.3,652.4 L949.2,651.3 L950.1,652.4 L951.0,650.6 L951.9,651.6 L952.8,650.3 L953.7,652.2 L954.6,651.1 L955.5,650.1 L956.4,649.9 L957.3,650.7 L958.2,651.8 L959.1,650.0 L960.0,650.8 L960.9,652.1 L961.8,650.6 L962.7,651.7 L963.6,653.5 L964.5,652.7 L965.4,652.1 L966.3,650.2 L967.2,651.4 L968.1,651.3 L969.0,651.4 L969.9,651.2 L970.8,650.2 L971.7,651.5 L972.6,651.7 L973.5,650.0 L974.4,650.7 L975.3,651.6 L976.2,650.8 L977.1,651.1 L978.0,649.7 L978.9,650.4 L979.8,650.3 L980.7,649.8 L981.6,651.1 L982.5,651.2 L983.4,650.1 L984.3,650.3 L985.2,651.6 L986.1,651.9 L987.0,653.1 L987.9,650.0 L988.8,652.7 L988.8,672.4 L987.9,670.5 L987.0,671.3 L986.1,672.7 L985.2,671.2 L984.3,672.9 L983.4,672.5 L982.5,672.4 L981.6,671.4 L980.7,670.3 L979.8,670.8 L978.9,671.9 L978.0,671.0 L977.1,669.6 L976.2,669.5 L975.3,669.9 L974.4,669.1 L973.5,670.3 L972.6,668.4 L971.7,671.1 L970.8,667.8 L969.9,667.7 L969.0,669.2 L968.1,667.0 L967.2,667.3 L966.3,664.6 L965.4,664.9 L964.5,661.9 L963.6,663.9 L962.7,665.4 L961.8,667.0 L960.9,666.7 L960.0,669.3 L959.1,670.2 L958.2,671.1 L957.3,671.3 L956.4,670.6 L955.5,670.2 L954.6,670.3 L953.7,669.1 L952.8,672.0 L951.9,671.4 L951.0,670.6 L950.1,669.7 L949.2,669.9 L948.3,671.5 L947.4,672.3 L946.5,671.1 L945.6,672.7 L944.7,671.2 L943.8,672.1 L942.9,670.9 L942.0,671.4 L941.1,671.4 L940.2,671.5 L939.3,672.5 Z" fill="#008000" stroke="#008000" stroke-width="1.2" stroke-linejoin="round"/>
<path d="M963.1,657.0 L963.8,451.3 L964.7,449.3 L965.6,451.3 L966.3,657.0 Z" fill="#008000" stroke="#008000" stroke-width="1.3" stroke-linejoin="round"/>
<path d="M988.8,656.5 L989.7,655.9 L990.6,654.5 L991.5,657.2 L992.4,656.8 L993.3,655.4 L994.2,654.9 L995.1,656.9 L996.0,655.5 L996.9,656.8 L997.8,655.7 L998.7,656.7 L999.6,654.7 L1000.5,654.5 L1001.4,655.0 L1002.3,654.7 L1003.2,655.0 L1004.1,656.1 L1005.0,655.1 L1005.9,654.6 L1006.8,653.5 L1007.7,654.2 L1008.6,653.8 L1009.5,654.6 L1010.4,654.3 L1011.3,653.1 L1012.2,656.2 L1013.1,655.3 L1014.0,654.7 L1014.9,656.3 L1015.8,655.8 L1016.7,656.0 L1017.6,653.6 L1018.5,654.0 L1019.4,654.4 L1020.3,654.3 L1021.2,655.2 L1022.1,656.3 L1023.0,654.2 L1023.9,655.9 L1024.8,655.4 L1025.7,655.8 L1026.6,655.5 L1027.5,656.5 L1028.4,653.7 L1029.3,656.1 L1030.2,653.8 L1031.1,655.1 L1032.0,657.0 L1032.9,654.1 L1033.8,655.3 L1034.7,655.2 L1035.6,655.4 L1036.5,655.1 L1037.4,654.3 L1037.4,666.4 L1036.5,668.4 L1035.6,666.4 L1034.7,667.4 L1033.8,668.3 L1032.9,668.4 L1032.0,668.8 L1031.1,668.0 L1030.2,668.1 L1029.3,667.5 L1028.4,668.6 L1027.5,667.5 L1026.6,667.2 L1025.7,665.5 L1024.8,665.4 L1023.9,667.6 L1023.0,665.9 L1022.1,667.3 L1021.2,664.7 L1020.3,665.1 L1019.4,666.6 L1018.5,665.9 L1017.6,663.6 L1016.7,662.2 L1015.8,662.6 L1014.9,661.6 L1014.0,663.6 L1013.1,663.7 L1012.2,664.4 L1011.3,665.6 L1010.4,667.2 L1009.5,664.4 L1008.6,667.0 L1007.7,666.4 L1006.8,666.2 L1005.9,665.8 L1005.0,667.0 L1004.1,665.6 L1003.2,665.6 L1002.3,666.9 L1001.4,667.2 L1000.5,666.9 L999.6,668.1 L998.7,667.1 L997.8,667.5 L996.9,668.9 L996.0,668.1 L995.1,667.0 L994.2,666.4 L993.3,666.3 L992.4,666.2 L991.5,668.2 L990.6,667.1 L989.7,666.3 L988.8,666.7 Z" fill="#000080" stroke="#000080" stroke-width="1.2" stroke-linejoin="round"/>
<path d="M1013.6,659.0 L1014.3,497.5 L1015.2,495.5 L1016.1,497.5 L1016.8,659.0 Z" fill="#000080" stroke="#000080" stroke-width="1.3" stroke-linejoin="round"/>
<path d="M1038.3,657.4 L1039.2,656.4 L1040.1,655.0 L1041.0,657.7 L1041.9,657.5 L1042.8,655.9 L1043.7,657.2 L1044.6,657.3 L1045.5,654.6 L1046.4,655.6 L1047.3,657.4 L1048.2,656.5 L1049.1,656.8 L1050.0,656.6 L1050.9,656.0 L1051.8,655.2 L1052.7,655.1 L1053.6,655.6 L1054.5,655.7 L1055.4,654.9 L1056.3,655.3 L1057.2,654.7 L1058.1,654.3 L1059.0,655.9 L1059.9,654.3 L1060.8,656.1 L1061.7,655.9 L1062.6,655.7 L1063.5,657.2 L1064.4,656.1 L1065.3,655.3 L1066.2,654.3 L1067.1,656.4 L1068.0,655.8 L1068.9,655.3 L1069.8,654.0 L1070.7,656.0 L1071.6,653.9 L1072.5,654.3 L1073.4,655.4 L1074.3,654.2 L1075.2,655.8 L1076.1,656.9 L1077.0,655.2 L1077.9,656.4 L1078.8,656.9 L1079.7,655.1 L1080.6,654.4 L1081.5,655.2 L1082.4,655.2 L1083.3,656.0 L1084.2,655.4 L1085.1,656.1 L1086.0,655.1 L1086.9,657.3 L1087.8,656.3 L1088.7,656.3 L1089.6,657.6 L1089.6,668.1 L1088.7,667.7 L1087.8,667.9 L1086.9,667.5 L1086.0,668.3 L1085.1,668.3 L1084.2,666.4 L1083.3,666.3 L1082.4,665.8 L1081.5,666.3 L1080.6,667.0 L1079.7,666.0 L1078.8,667.5 L1077.9,666.0 L1077.0,668.0 L1076.1,667.1 L1075.2,667.7 L1074.3,667.1 L1073.4,666.5 L1072.5,665.0 L1071.6,666.7 L1070.7,666.5 L1069.8,666.7 L1068.9,664.4 L1068.0,664.7 L1067.1,662.4 L1066.2,662.5 L1065.3,663.0 L1064.4,662.0 L1063.5,664.4 L1062.6,664.0 L1061.7,664.2 L1060.8,664.5 L1059.9,663.8 L1059.0,665.8 L1058.1,665.0 L1057.2,666.6 L1056.3,667.7 L1055.4,666.5 L1054.5,667.5 L1053.6,666.1 L1052.7,666.9 L1051.8,665.6 L1050.9,665.8 L1050.0,665.7 L1049.1,665.6 L1048.2,666.6 L1047.3,667.0 L1046.4,667.6 L1045.5,666.8 L1044.6,667.0 L1043.7,665.9 L1042.8,667.3 L1041.9,666.3 L1041.0,667.4 L1040.1,666.6 L1039.2,666.0 L1038.3,667.8 Z" fill="#8010f0" stroke="#8010f0" stroke-width="1.2" stroke-linejoin="round"/>
<path d="M1063.2,659.2 L1063.9,504.0 L1064.8,502.0 L1065.7,504.0 L1066.4,659.2 Z" fill="#8010f0" stroke="#8010f0" stroke-width="1.3" stroke-linejoin="round"/>
<path d="M763.4,507.1 L763.9,505.2 L764.3,503.2 L764.8,501.3 L765.2,499.3 L765.7,497.4 L766.1,495.4 L766.6,493.5 L767.0,491.5 L767.5,489.6 L768.0,487.7 L768.9,486.0 L770.1,484.5 L771.7,483.2 L773.3,481.9 L775.0,480.7 L776.6,479.5 L778.3,478.2 L780.0,477.0 L781.7,476.1 L783.6,475.4 L785.6,474.9 L787.6,474.5 L789.6,474.0 L791.6,473.6 L793.6,473.2 L795.7,472.7 L797.7,472.3 L799.7,471.9 L801.7,471.4 L803.7,471.1 L805.7,471.0 L807.7,471.0 L809.8,471.1 L811.8,471.2 L813.8,471.4 L815.9,471.5 L817.9,471.6 L819.9,471.7 L822.0,471.9 L824.0,472.0 L826.0,472.1 L828.1,472.3 L830.1,472.4 L832.1,472.4 L834.2,472.4 L836.2,472.4 L838.2,472.4 L840.3,472.4 L842.3,472.4 L844.3,472.4 L846.3,472.4 L848.4,472.4 L850.4,472.4 L852.4,472.4 L854.5,472.4 L856.5,472.4 L858.5,472.1 L860.5,471.8 L862.5,471.4 L864.6,470.9 L866.6,470.5 L868.6,470.1 L870.6,469.6 L872.6,469.2 L874.6,468.8 L876.6,468.4 L878.6,467.9 L880.6,467.3 L882.6,466.7 L884.5,465.9 L886.5,465.2 L888.4,464.4 L890.3,463.6 L892.3,462.8 L894.2,462.1 L896.1,461.3 L898.0,460.4 L899.8,459.5 L901.6,458.6 L903.4,457.7 L905.2,456.8 L907.0,455.9 L908.8,455.0 L910.6,454.1 L912.5,453.2 L914.3,452.3 L916.1,451.5 L917.9,450.6 L919.8,449.8 L921.7,449.0 L923.6,448.2 L925.4,447.4 L927.3,446.7 L929.2,445.9 L931.1,445.1 L933.0,444.3 L934.9,443.6 L936.9,443.0 L938.9,442.6 L941.0,442.4 L943.1,442.3 L945.3,442.2 L947.4,442.0 L949.5,441.9 L951.5,442.1 L953.5,442.5 L955.3,443.2 L957.2,444.0 L959.0,444.7 L960.9,445.5 L962.8,446.2 L964.6,447.0 L966.2,448.0 L967.8,449.3 L969.1,450.8 L970.4,452.3 L971.8,453.8 L973.1,455.4 L974.4,456.9 L975.7,458.5 L976.8,460.1 L977.9,461.8 L979.0,463.6 L980.0,465.3 L981.1,467.1 L982.1,468.8 L983.2,470.5 L984.2,472.3 L985.3,474.0 L986.4,475.7 L987.5,477.4 L988.8,479.0 L990.0,480.7 L991.2,482.3 L992.5,484.0 L993.7,485.7 L995.0,487.3 L996.4,488.7 L998.0,490.0 L999.7,491.0 L1001.4,492.1 L1003.1,493.1 L1004.9,494.2 L1006.6,495.2 L1008.4,496.3 L1010.1,497.3 L1011.9,498.3 L1013.7,499.2 L1015.6,500.0 L1017.6,500.8 L1019.5,501.6 L1021.4,502.4 L1023.4,503.1 L1025.3,503.9 L1027.3,504.7 L1029.3,505.3 L1031.3,505.8 L1033.3,506.3 L1035.4,506.7 L1037.5,507.1 L1039.5,507.5 L1041.6,507.9 L1043.7,508.3 L1045.7,508.6 L1047.8,508.8 L1049.8,508.9 L1051.9,509.0 L1054.0,509.1 L1056.0,509.2 L1058.1,509.3 L1060.2,509.3 L1062.2,509.4 L1062.2,509.4" fill="none" stroke="#000" stroke-width="6.2" stroke-linejoin="round" stroke-linecap="round" stroke-dasharray="6.5,13"/>
<rect x="883.3" y="415.7" width="150.9" height="154.8" fill="none" stroke="#555" stroke-width="1.3" stroke-dasharray="4,3"/>
<path d="M240.0,1056.0 L336.3,1056.0 L339.1,1054.5 L340.1,1051.0 L340.7,948.0 L341.9,948.0 L342.5,1051.0 L343.5,1054.5 L346.3,1056.0 L408.3,1056.0 L411.1,1054.5 L412.1,1051.0 L412.7,1022.7 L413.9,1022.7 L414.5,1051.0 L415.5,1054.5 L418.3,1056.0 L424.3,1056.0 L427.1,1054.5 L428.1,1051.0 L428.7,839.5 L429.9,839.5 L430.5,1051.0 L431.5,1054.5 L434.3,1056.0 L588.0,1056.0" fill="none" stroke="#0000f0" stroke-width="3.0" stroke-linejoin="round" stroke-linecap="round" />
<path d="M727.0,1060.4 L901.4,1060.4 L904.2,1058.9 L905.2,1055.4 L905.8,834.3 L907.0,834.3 L907.6,1055.4 L908.6,1058.9 L911.4,1060.4 L946.6,1060.4 L949.4,1058.9 L950.4,1055.4 L951.0,980.2 L952.2,980.2 L952.8,1055.4 L953.8,1058.9 L956.6,1060.4 L990.5,1060.4 L993.3,1058.9 L994.3,1055.4 L994.9,970.6 L996.1,970.6 L996.7,1055.4 L997.7,1058.9 L1000.5,1060.4 L1085.3,1060.4" fill="none" stroke="#0000f0" stroke-width="3.0" stroke-linejoin="round" stroke-linecap="round" />
<path d="M1251.4,299.0 L1261.6,225.3 L1270.2,130.0 L1274.6,75.1 L1280.3,52.0 L1286.1,72.2 L1293.3,144.4 L1300.6,213.8 L1310.7,260.0 L1317.9,299.0" fill="none" stroke="#ff00ff" stroke-width="8.2" stroke-linejoin="round" stroke-linecap="round" />
<path d="M1343.9,299.0 L1348.2,286.0 L1356.9,273.0 L1362.7,231.1 L1365.6,187.8 L1372.8,187.8 L1380.0,173.3 L1384.3,135.8 L1390.1,144.4 L1395.9,135.8 L1401.7,199.3 L1408.9,179.1 L1413.2,119.9 L1417.6,187.8 L1420.4,254.2 L1426.2,271.6 L1429.1,299.0" fill="none" stroke="#008000" stroke-width="6.0" stroke-linejoin="round" stroke-linecap="round" />
<path d="M1449.3,299.0 L1460.9,265.8 L1466.7,231.1 L1472.4,228.2 L1476.8,164.7 L1485.4,213.8 L1491.2,173.3 L1497.0,161.8 L1501.3,130.0 L1507.1,50.6 L1511.4,95.3 L1517.2,173.3 L1523.0,236.9 L1530.2,277.3 L1536.0,299.0" fill="none" stroke="#000080" stroke-width="7.4" stroke-linejoin="round" stroke-linecap="round" />
<rect x="1226.3" y="32.6" width="324.7" height="266.4" fill="none" stroke="#555" stroke-width="1.3" stroke-dasharray="4,3"/>
<path d="M1244.2,676.7 L1248.6,668.9 L1252.9,668.9 L1257.2,631.3 L1261.6,631.3 L1263.0,644.3 L1267.3,619.8 L1271.7,567.8 L1276.0,507.1 L1280.3,460.9 L1281.8,440.7 L1283.2,460.9 L1286.1,507.1 L1290.4,524.4 L1294.8,541.8 L1300.6,547.6 L1302.0,582.2 L1304.9,642.9 L1310.7,536.0 L1313.6,518.7 L1317.9,510.0 L1319.3,530.2 L1322.2,582.2 L1325.1,640.0 L1326.6,674.7 L1330.9,666.0 L1335.2,654.4 L1339.6,657.3 L1342.4,666.0 L1345.3,676.7" fill="none" stroke="#ff00ff" stroke-width="8.2" stroke-linejoin="round" stroke-linecap="round" />
<path d="M1367.0,676.7 L1368.4,668.9 L1371.3,654.4 L1374.2,640.0 L1377.1,611.1 L1378.6,590.9 L1381.4,582.2 L1384.3,576.4 L1385.8,524.4 L1387.2,495.6 L1388.7,466.7 L1390.1,449.3 L1391.6,443.6 L1393.0,466.7 L1394.4,492.7 L1397.3,501.3 L1400.2,515.8 L1403.1,536.0 L1406.0,562.0 L1408.9,536.0 L1411.8,553.3 L1413.2,567.8 L1414.7,625.6 L1417.6,460.9 L1419.0,462.3 L1420.4,472.4 L1421.9,492.7 L1424.8,512.9 L1429.1,553.3 L1433.4,611.1 L1436.3,640.0 L1437.8,663.1 L1442.1,666.0 L1445.0,676.7" fill="none" stroke="#008000" stroke-width="6.0" stroke-linejoin="round" stroke-linecap="round" />
<path d="M1472.4,676.7 L1475.3,642.9 L1478.2,582.2 L1479.7,564.9 L1481.1,541.8 L1484.0,518.7 L1486.9,495.6 L1489.8,486.9 L1492.7,492.7 L1495.6,507.1 L1501.3,530.2 L1504.2,556.2 L1505.7,582.2 L1508.6,582.2 L1510.0,553.3 L1512.9,466.7 L1515.8,466.7 L1517.2,553.3 L1518.7,634.2 L1520.1,631.3 L1521.6,567.8 L1524.4,570.7 L1527.3,611.1 L1530.2,619.8 L1533.1,640.0 L1536.0,676.7" fill="none" stroke="#000080" stroke-width="7.4" stroke-linejoin="round" stroke-linecap="round" />
<rect x="1226.3" y="410.3" width="324.7" height="266.4" fill="none" stroke="#555" stroke-width="1.3" stroke-dasharray="4,3"/>
<path d="M1252.9,1054.7 L1255.8,1037.3 L1258.7,1025.8 L1261.6,1024.3 L1263.0,1048.9 L1265.9,1048.9 L1267.3,1011.3 L1270.2,982.4 L1271.7,933.3 L1273.1,875.6 L1274.6,823.6 L1277.4,823.6 L1278.9,875.6 L1280.3,904.4 L1281.8,962.2 L1283.2,1005.6 L1284.7,947.8 L1289.0,944.9 L1293.3,939.1 L1299.1,930.4 L1302.0,920.3 L1304.9,933.3 L1307.8,962.2 L1310.7,991.1 L1313.6,1020.0 L1317.9,1037.3 L1322.2,1054.7" fill="none" stroke="#ff00ff" stroke-width="8.2" stroke-linejoin="round" stroke-linecap="round" />
<path d="M1271.7,973.8 L1274.6,846.7 L1277.4,846.7 L1280.3,962.2 L1276.0,947.8 L1273.1,904.4" fill="none" stroke="#ff00ff" stroke-width="8.2" stroke-linejoin="round" stroke-linecap="round" />
<path d="M1348.2,1054.7 L1354.0,1048.9 L1359.8,1041.7 L1364.1,1037.3 L1365.6,1020.0 L1368.4,1014.2 L1372.8,1014.2 L1374.2,979.6 L1375.7,944.9 L1377.1,910.2 L1380.0,887.1 L1381.4,858.2 L1382.9,832.2 L1385.8,806.2 L1388.7,832.2 L1390.1,861.1 L1393.0,890.0 L1395.9,939.1 L1398.8,933.3 L1401.7,924.7 L1406.0,921.8 L1411.8,918.9 L1416.1,933.3 L1419.0,962.2 L1421.9,991.1 L1426.2,1014.2 L1430.6,1031.6 L1434.9,1046.0 L1437.8,1054.7" fill="none" stroke="#008000" stroke-width="6.0" stroke-linejoin="round" stroke-linecap="round" />
<path d="M1465.2,1054.7 L1469.6,1046.0 L1472.4,1037.3 L1476.8,1037.3 L1478.2,1046.0 L1481.1,1034.4 L1482.6,991.1 L1484.0,944.9 L1485.4,904.4 L1486.9,869.8 L1489.8,858.2 L1492.7,855.3 L1494.1,875.6 L1495.6,904.4 L1497.0,921.8 L1501.3,933.3 L1504.2,939.1 L1507.1,930.4 L1511.4,921.8 L1517.2,920.3 L1520.1,927.6 L1521.6,947.8 L1524.4,976.7 L1525.9,1005.6 L1527.3,1022.9 L1531.7,1028.7 L1534.6,1043.1 L1536.0,1054.7" fill="none" stroke="#000080" stroke-width="7.4" stroke-linejoin="round" stroke-linecap="round" />
<rect x="1228.3" y="792.6" width="325.0" height="267.0" fill="none" stroke="#555" stroke-width="1.3" stroke-dasharray="4,3"/>
<path d="M268.3,1289.2 L270.3,1289.3 L272.3,1289.4 L274.3,1289.4 L276.3,1289.5 L278.3,1289.6 L280.3,1289.7 L282.3,1289.7 L284.3,1289.8 L286.3,1289.9 L288.3,1290.0 L290.3,1290.0 L292.3,1290.1 L294.3,1290.2 L296.3,1290.3 L298.3,1290.3 L300.3,1290.4 L302.3,1290.5 L304.3,1290.6 L306.3,1290.6 L308.3,1290.7 L310.4,1290.8 L312.4,1290.9 L314.4,1291.0 L316.4,1291.0 L318.4,1291.1 L320.4,1291.2 L322.4,1291.3 L324.4,1291.3 L326.4,1291.4 L328.4,1291.5 L330.4,1291.6 L332.4,1291.6 L334.4,1291.7 L336.4,1291.8 L338.4,1291.9 L340.4,1291.9 L342.4,1292.0 L344.4,1292.1 L346.4,1292.2 L348.4,1292.2 L350.3,1292.6 L352.2,1293.2 L353.9,1294.2 L355.5,1295.6 L357.0,1297.2 L358.2,1298.9 L359.2,1300.7 L360.0,1302.5 L360.6,1304.4 L361.2,1306.3 L361.9,1308.2 L362.5,1310.2 L363.1,1312.1 L363.7,1314.0 L364.3,1315.9 L364.9,1317.8 L365.4,1319.8 L365.9,1321.8 L366.4,1323.8 L366.8,1325.8 L367.3,1327.8 L367.7,1329.8 L368.2,1331.8 L368.7,1333.8 L369.1,1335.7 L369.6,1337.7 L370.0,1339.7 L370.5,1341.7 L370.9,1343.7 L371.4,1345.7 L371.9,1347.7 L372.4,1349.6 L373.2,1351.3 L374.4,1352.8 L375.8,1354.0 L377.3,1354.5 L378.5,1354.3 L379.4,1353.4 L380.0,1351.9 L380.3,1349.9 L380.6,1348.0 L380.9,1346.0 L381.2,1344.0 L381.5,1342.0 L381.8,1340.0 L382.0,1338.0 L382.3,1336.0 L382.6,1334.0 L382.9,1332.0 L383.2,1330.1 L383.5,1328.1 L383.9,1326.1 L384.5,1324.2 L385.3,1322.3 L386.2,1320.4 L387.3,1318.5 L388.4,1316.7 L389.4,1315.5 L390.5,1315.1 L391.5,1315.5 L392.6,1316.7 L393.6,1318.5 L394.7,1320.4 L395.7,1322.3 L396.5,1324.1 L397.3,1326.0 L397.9,1328.0 L398.5,1329.9 L399.0,1331.8 L399.6,1333.8 L400.1,1335.7 L400.7,1337.6 L401.3,1339.5 L401.8,1341.5 L402.4,1343.4 L403.0,1345.3 L403.6,1347.3 L404.4,1349.2 L405.1,1351.1 L405.9,1353.0 L406.6,1355.0 L407.4,1356.9 L408.1,1358.8 L408.9,1360.8 L409.7,1362.7 L410.4,1364.6 L411.2,1366.5 L412.1,1368.2 L413.4,1369.3 L414.9,1370.1 L416.7,1370.4 L418.7,1370.4 L420.7,1370.4 L422.7,1370.4 L424.7,1370.4 L426.7,1370.4 L428.7,1370.4 L430.7,1370.4 L432.7,1370.4 L434.7,1370.4 L436.7,1370.4 L438.7,1370.4 L440.7,1370.4 L442.7,1370.4 L444.7,1370.4 L446.7,1370.4 L448.7,1370.4 L450.8,1370.4 L452.8,1370.4 L454.8,1370.4 L456.8,1370.4 L458.8,1370.4 L460.8,1370.4 L462.8,1370.4 L464.8,1370.4 L466.8,1370.4 L468.8,1370.4 L470.8,1370.4 L472.8,1370.4 L474.8,1370.4 L476.8,1370.4 L478.8,1370.4 L480.8,1370.4 L482.8,1370.4 L484.8,1370.4 L486.8,1370.4 L488.8,1370.4 L490.8,1370.4 L492.8,1370.4 L494.8,1370.4 L496.8,1370.4 L498.8,1370.4 L500.8,1370.4 L502.8,1370.4 L504.8,1370.4 L506.8,1370.4 L508.8,1370.4 L510.8,1370.4 L512.8,1370.4 L514.8,1370.4 L516.8,1370.4 L518.8,1370.4 L520.8,1370.4 L522.8,1370.4 L524.9,1370.4 L526.9,1370.4 L528.9,1370.4 L530.9,1370.4 L532.9,1370.4 L534.9,1370.4 L536.9,1370.4 L538.9,1370.4 L540.9,1370.4 L542.9,1370.4 L544.9,1370.4 L546.9,1370.4 L548.9,1370.4 L550.9,1370.4 L552.9,1370.4 L554.9,1370.4 L556.9,1370.4 L558.8,1370.3 L560.5,1369.8 L561.9,1368.8 L563.1,1367.4 L564.0,1365.6 L564.9,1363.6 L565.7,1361.7 L566.6,1359.8 L567.4,1357.8 L568.1,1355.9 L568.7,1353.9 L569.3,1352.0 L569.8,1350.0 L570.2,1348.1 L570.7,1346.1 L571.2,1344.2 L571.7,1342.2 L572.2,1340.3 L572.7,1338.3 L573.1,1336.4 L573.6,1334.4 L574.1,1332.5 L574.6,1330.5 L575.1,1328.5 L575.6,1326.6 L576.1,1324.6 L576.6,1322.7 L577.1,1320.7 L577.6,1318.7 L578.0,1316.8 L578.5,1314.8 L579.0,1312.8 L579.5,1310.9 L580.0,1308.9 L580.7,1307.0 L581.5,1305.2 L582.6,1303.6 L583.9,1302.0 L585.3,1300.5 L586.9,1299.1 L588.4,1297.6 L590.0,1296.2 L591.6,1294.9 L593.3,1293.8 L595.1,1292.8 L597.0,1292.1 L598.9,1291.6 L600.9,1291.3 L602.9,1291.2 L604.9,1291.3 L606.9,1291.6 L607.9,1291.8" fill="none" stroke="#000" stroke-width="6" stroke-linejoin="round" stroke-linecap="round" />
<path d="M607.9,1291.8 L609.5,1292.0 L609.5,1317.0 L614.5,1317.0 L614.5,1291.5 L619.9,1289.8 L627.9,1285.8 L631.9,1282.8" fill="none" stroke="#000" stroke-width="6" stroke-linejoin="round" stroke-linecap="round" />
<path d="M629,1283 L628.5,1356 L637.5,1356 L639.5,1299 Z" fill="#000" stroke="#000" stroke-width="3" stroke-linejoin="round"/>
<path d="M638.9,1299.7 L640.9,1299.2 L642.8,1300.2 L644.4,1301.2 L645.8,1302.8 L646.9,1304.5 L647.8,1306.4 L648.6,1308.2 L649.4,1310.1 L650.2,1312.0 L651.0,1313.9 L651.7,1315.8 L652.4,1317.7 L653.0,1319.7 L653.6,1321.7 L654.2,1323.7 L654.8,1325.7 L655.4,1327.7 L656.0,1329.7 L656.6,1331.7 L657.2,1333.7 L657.8,1335.7 L658.4,1337.7 L659.0,1339.7 L659.6,1341.7 L660.2,1343.7 L660.8,1345.7 L661.4,1347.6 L662.0,1349.6 L662.6,1351.6 L663.2,1353.6 L663.9,1355.6 L664.6,1357.6 L665.3,1359.6 L666.1,1361.6 L666.9,1363.6 L667.7,1365.5 L668.9,1367.2 L670.3,1368.6 L672.0,1369.5 L674.0,1370.0 L676.0,1370.3 L678.1,1370.3 L680.1,1370.3 L682.1,1370.3 L684.2,1370.3 L686.2,1370.3 L688.2,1370.3 L690.3,1370.3 L692.3,1370.3 L694.3,1370.3 L696.4,1370.3 L698.4,1370.3 L700.4,1370.3 L702.5,1370.3 L704.5,1370.3 L706.5,1370.3 L708.6,1370.3 L710.6,1370.3 L712.6,1370.3 L714.6,1370.2 L716.5,1369.8 L718.4,1369.0 L719.9,1367.8 L721.3,1366.1 L722.4,1364.3 L723.3,1362.4 L724.1,1360.5 L724.9,1358.5 L725.7,1356.6 L726.5,1354.6 L727.2,1352.7 L728.0,1350.7 L728.7,1348.8 L729.3,1346.9 L729.9,1345.0 L730.6,1343.1 L731.2,1341.1 L731.9,1339.2 L732.5,1337.3 L733.1,1335.4 L733.8,1333.5 L734.4,1331.5 L735.0,1329.6 L735.7,1327.7 L736.2,1325.8 L736.8,1323.8 L737.4,1321.9 L737.9,1320.0 L738.5,1318.0 L739.0,1316.1 L739.6,1314.2 L740.1,1312.3 L740.7,1310.3 L741.2,1308.4 L741.8,1306.5 L742.3,1304.5 L742.9,1302.6 L743.5,1300.7 L744.2,1298.8 L745.0,1296.9 L745.8,1295.0 L746.6,1293.1 L747.5,1291.2 L748.3,1289.3 L749.2,1287.5 L750.0,1285.6 L751.0,1283.8 L752.2,1282.2 L753.5,1280.8 L755.1,1279.5 L756.7,1278.4 L758.4,1277.3 L760.1,1276.1 L761.8,1275.0 L763.6,1274.1 L765.4,1273.4 L767.3,1272.8 L769.3,1272.3 L771.3,1271.9 L773.2,1271.6 L775.2,1271.2 L777.2,1270.8 L779.2,1270.4 L780.2,1270.2" fill="none" stroke="#000" stroke-width="6" stroke-linejoin="round" stroke-linecap="round" />
<path d="M780.2,1270.2 L781.7,1279.0 L789.7,1279.0 L796.0,1274.9 L805.6,1268.6 L810.3,1270.2" fill="none" stroke="#000" stroke-width="6" stroke-linejoin="round" stroke-linecap="round" />
<path d="M810.3,1270.2 L811.7,1272.0 L813.0,1273.8 L814.3,1275.6 L815.5,1277.4 L816.7,1279.1 L817.7,1280.9 L818.8,1282.7 L819.9,1284.5 L820.9,1286.2 L822.0,1288.0 L823.0,1289.8 L823.9,1291.6 L824.8,1293.4 L825.5,1295.3 L826.2,1297.2 L826.8,1299.1 L827.5,1301.0 L828.1,1302.9 L828.7,1304.8 L829.4,1306.7 L830.0,1308.6 L830.6,1310.5 L831.2,1312.4 L831.9,1314.3 L832.5,1316.2 L833.2,1318.1 L833.8,1320.0 L834.4,1321.9 L835.1,1323.8 L835.7,1325.8 L836.3,1327.7 L837.0,1329.6 L837.6,1331.4 L838.3,1333.3 L838.9,1335.2 L839.5,1337.2 L840.2,1339.1 L840.8,1340.9 L841.5,1342.8 L842.1,1344.8 L842.8,1346.6 L843.7,1348.4 L844.7,1350.1 L845.9,1351.7 L847.4,1353.2 L848.8,1354.6 L850.3,1356.1 L851.8,1357.1 L853.3,1357.6 L855.0,1357.4 L856.7,1356.7 L858.4,1355.6 L860.0,1354.4 L861.4,1353.0 L862.6,1351.5 L863.4,1349.7 L864.0,1347.9 L864.5,1345.9 L865.1,1344.0 L865.6,1342.0 L866.1,1340.1 L866.7,1338.2 L867.2,1336.2 L867.7,1334.3 L868.2,1332.3 L868.8,1330.4 L869.3,1328.5 L869.8,1326.5 L870.4,1324.6 L870.9,1322.6 L871.4,1320.7 L871.9,1318.8 L872.4,1316.8 L872.9,1314.8 L873.3,1312.9 L873.7,1310.9 L874.2,1308.9 L874.6,1307.0 L875.1,1305.0 L875.5,1303.0 L876.0,1301.0 L876.4,1299.1 L876.8,1297.1 L877.3,1295.1 L877.7,1293.1 L878.2,1291.2 L878.7,1289.2 L879.3,1287.3 L880.0,1285.3 L880.7,1283.4 L881.3,1281.5 L882.0,1279.5 L882.7,1277.6 L883.4,1275.7 L884.1,1273.8 L884.8,1271.8 L885.5,1269.9 L886.5,1268.2 L887.6,1266.6 L888.9,1265.1 L890.5,1263.8 L892.1,1262.6 L893.8,1261.6 L895.5,1260.8 L897.4,1260.2 L899.4,1259.8 L901.4,1259.5 L903.4,1259.1 L905.5,1258.8 L907.5,1258.5 L909.5,1258.2 L911.5,1257.9 L913.5,1257.6 L915.5,1257.4 L917.6,1257.2 L919.6,1257.0 L921.6,1256.9 L923.7,1256.7 L925.7,1256.5 L927.7,1256.4 L929.7,1256.2 L931.8,1256.0 L933.8,1255.9 L935.8,1255.7 L937.9,1255.6 L939.9,1255.4 L941.9,1255.2 L943.9,1255.0 L945.9,1254.9 L947.9,1254.7 L949.9,1254.5 L951.9,1254.3 L953.9,1254.1 L955.9,1253.9 L957.9,1253.8 L959.9,1253.6 L961.9,1253.4 L961.9,1253.4" fill="none" stroke="#000" stroke-width="6" stroke-linejoin="round" stroke-linecap="round" />
<path d="M961.9,1253.4 L966,1249.8 L968.6,1173 L975.8,1173 L978.9,1249.8 L982,1252.8" fill="#000" stroke="#000" stroke-width="5.5" stroke-linejoin="round"/>
<path d="M982.0,1252.8 L984.1,1252.7 L986.2,1252.7 L988.3,1252.6 L990.4,1252.5 L992.5,1252.4 L994.6,1252.4 L996.7,1252.3 L998.7,1252.2 L1000.8,1252.1 L1002.8,1252.0 L1004.8,1251.8 L1006.8,1251.7 L1008.8,1251.6 L1010.8,1251.4 L1012.8,1251.3 L1014.8,1251.2 L1016.8,1251.0 L1018.8,1250.9 L1020.8,1250.7 L1022.8,1250.6 L1024.8,1250.4 L1026.8,1250.3 L1028.8,1250.2 L1030.8,1250.0 L1032.8,1249.9 L1034.8,1249.8 L1036.8,1249.6 L1038.8,1249.5 L1040.8,1249.5 L1042.9,1249.4 L1044.9,1249.5 L1047.0,1249.5 L1049.1,1249.5 L1051.1,1249.5 L1053.2,1249.6 L1055.2,1249.6 L1057.3,1249.6 L1059.4,1249.6 L1061.4,1249.7 L1063.5,1249.7 L1065.5,1249.7 L1067.6,1249.7 L1069.6,1249.8 L1071.7,1249.8 L1071.7,1249.8" fill="none" stroke="#000" stroke-width="6" stroke-linejoin="round" stroke-linecap="round" />
<path d="M268.3,1468.6 L422.2,1470.2 L625.4,1465.2 L627.9,1463.5 L631.9,1459.5 L634.9,1455.5 L636.9,1425.5 L638.9,1407.6 L640.9,1405.6 L641.9,1393.5 L646.8,1393.5 L647.8,1407.6 L649.8,1439.5 L651.8,1455.5 L655.8,1457.5 L656.8,1463.5 L759.6,1464.5 L967.9,1463.5 L970.9,1459.5 L975.9,1457.5 L978.9,1381.6 L980.9,1379.6 L981.9,1366.5 L986.8,1366.5 L987.8,1381.6 L990.8,1439.5 L993.8,1457.5 L997.8,1459.5 L1001.8,1463.5 L1071.7,1464.5" fill="none" stroke="#ff0000" stroke-width="6" stroke-linejoin="round" stroke-linecap="round" />
<path d="M636.9,1425.5 L638.9,1407.6 L640.9,1405.6 L641.9,1392.6 L646.8,1392.6 L647.8,1407.6 L649.8,1439.5 L644.3,1428 L637.5,1445 Z" fill="#ff0000" stroke="#ff0000" stroke-width="2.5" stroke-linejoin="round"/>
<path d="M978.9,1381.6 L980.9,1379.6 L981.9,1366.5 L986.8,1366.5 L987.8,1381.6 L990.8,1439.5 L984.4,1425 L978.2,1440 Z" fill="#ff0000" stroke="#ff0000" stroke-width="2.5" stroke-linejoin="round"/>
<line x1="633.5" y1="1204" x2="633.5" y2="1391" stroke="#0070c0" stroke-width="3.2" stroke-dasharray="4,3"/>
<line x1="644" y1="1204" x2="644" y2="1391" stroke="#0070c0" stroke-width="3.2" stroke-dasharray="4,3"/>
<line x1="971.3" y1="1178" x2="971.3" y2="1364" stroke="#0070c0" stroke-width="3.2" stroke-dasharray="4,3"/>
<line x1="981.9" y1="1178" x2="981.9" y2="1364" stroke="#0070c0" stroke-width="3.2" stroke-dasharray="4,3"/>
<path d="M585,1236.5 L629,1236.5 M605,1213.5 L629,1236.5 L605,1259.5" fill="none" stroke="#0070c0" stroke-width="3" stroke-linecap="round" stroke-linejoin="round"/>
<path d="M689,1236.5 L645,1236.5 M669,1213.5 L645,1236.5 L669,1259.5" fill="none" stroke="#0070c0" stroke-width="3" stroke-linecap="round" stroke-linejoin="round"/>
<path d="M926.9,1301 L970.9,1301 M946.9,1278 L970.9,1301 L946.9,1324" fill="none" stroke="#0070c0" stroke-width="3" stroke-linecap="round" stroke-linejoin="round"/>
<path d="M1027.4,1301 L983.4,1301 M1007.4,1278 L983.4,1301 L1007.4,1324" fill="none" stroke="#0070c0" stroke-width="3" stroke-linecap="round" stroke-linejoin="round"/>
<line x1="1265.3" y1="1178.6" x2="1425.7" y2="1178.6" stroke="#000" stroke-width="6" stroke-linecap="round"/>
<line x1="1269.6" y1="1329.1" x2="1560.8" y2="1329.1" stroke="#000" stroke-width="6" stroke-linecap="round"/>
<line x1="1269.6" y1="1459.5" x2="1560.8" y2="1459.5" stroke="#000" stroke-width="6" stroke-linecap="round"/>
<line x1="1269.6" y1="1504.6" x2="1560.8" y2="1504.6" stroke="#000" stroke-width="6" stroke-linecap="round"/>
<line x1="1295" y1="1286.3" x2="1549" y2="1286.3" stroke="#000" stroke-width="6" stroke-linecap="round" stroke-dasharray="6,14"/>
<line x1="1297" y1="1286.3" x2="1335" y2="1286.3" stroke="#000" stroke-width="1"/>
<line x1="1452" y1="1246.5" x2="1562" y2="1246.5" stroke="#000" stroke-width="6" stroke-linecap="round" stroke-dasharray="6,14"/>
<line x1="1326.1" y1="1210" x2="1326.1" y2="1255" stroke="#000" stroke-width="6.5"/>
<path d="M1326.1,1182 L1338.3,1217 L1313.9,1217 Z" fill="#000"/>
<path d="M1326.1,1285 L1338.3,1249 L1313.9,1249 Z" fill="#000"/>
<line x1="1268" y1="1269.4" x2="1376" y2="1269.4" stroke="#6f99d8" stroke-width="5.5" stroke-linecap="round" stroke-dasharray="5.5,14.5"/>
<line x1="1261" y1="1357.3" x2="1369" y2="1357.3" stroke="#6f99d8" stroke-width="5.5" stroke-linecap="round" stroke-dasharray="5.5,14.5"/>
<line x1="1335.2" y1="1300" x2="1335.2" y2="1315" stroke="#000" stroke-width="1.5"/>
<path d="M1335.2,1288.5 L1341.3,1305 L1329.1,1305 Z" fill="#000"/>
<path d="M1335.2,1327 L1341.3,1310 L1329.1,1310 Z" fill="#000"/>
<line x1="1376.8" y1="1504" x2="1376.8" y2="1305" stroke="#2c5faa" stroke-width="5.5"/>
<path d="M1376.8,1288 L1389,1311 L1365.6,1311 Z" fill="#2c5faa"/>
<line x1="1452.6" y1="1459" x2="1452.6" y2="1265" stroke="#2c5faa" stroke-width="5.5"/>
<path d="M1452.6,1247.5 L1464.4,1270.5 L1441.4,1270.5 Z" fill="#2c5faa"/>
<line x1="1429.2" y1="1289" x2="1429.2" y2="1436" stroke="#ff0000" stroke-width="5.5" stroke-dasharray="6.5,14" stroke-linecap="round"/>
<path d="M1429.6,1458.3 L1440.4,1437.5 L1418.9,1437.5 Z" fill="#ff0000"/>
<line x1="1497.5" y1="1251" x2="1497.5" y2="1484" stroke="#00b050" stroke-width="6" stroke-dasharray="6.5,14" stroke-linecap="round"/>
<path d="M1497.3,1503.3 L1507.8,1483.6 L1486.3,1483.6 Z" fill="#00a650"/>
<rect x="223.2" y="7.2" width="384.8" height="317.6" fill="none" stroke="#000" stroke-width="6.8" stroke-linejoin="round"/>
<rect x="714.7" y="6.9" width="384.9" height="317.6" fill="none" stroke="#000" stroke-width="6.8" stroke-linejoin="round"/>
<rect x="1157.5" y="7.7" width="408.8" height="317.0" fill="none" stroke="#000" stroke-width="6.8" stroke-linejoin="round"/>
<rect x="222.8" y="392.8" width="384.7" height="316.6" fill="none" stroke="#000" stroke-width="6.8" stroke-linejoin="round"/>
<rect x="714.7" y="392.1" width="384.5" height="317.1" fill="none" stroke="#000" stroke-width="6.8" stroke-linejoin="round"/>
<rect x="1157.5" y="391.7" width="408.8" height="317.2" fill="none" stroke="#000" stroke-width="6.8" stroke-linejoin="round"/>
<rect x="223.8" y="775.4" width="382.2" height="310.8" fill="none" stroke="#000" stroke-width="6.8" stroke-linejoin="round"/>
<rect x="714.7" y="775.1" width="384.9" height="311.0" fill="none" stroke="#000" stroke-width="6.8" stroke-linejoin="round"/>
<rect x="1157.5" y="775.4" width="411.2" height="310.7" fill="none" stroke="#000" stroke-width="6.8" stroke-linejoin="round"/>
<rect x="224.2" y="1157.8" width="870.8" height="373.3" fill="none" stroke="#000" stroke-width="6.8" stroke-linejoin="round"/>
<rect x="1157.6" y="1159.7" width="411.1" height="368.6" fill="none" stroke="#000" stroke-width="6.8" stroke-linejoin="round"/>
</svg></body></html>
